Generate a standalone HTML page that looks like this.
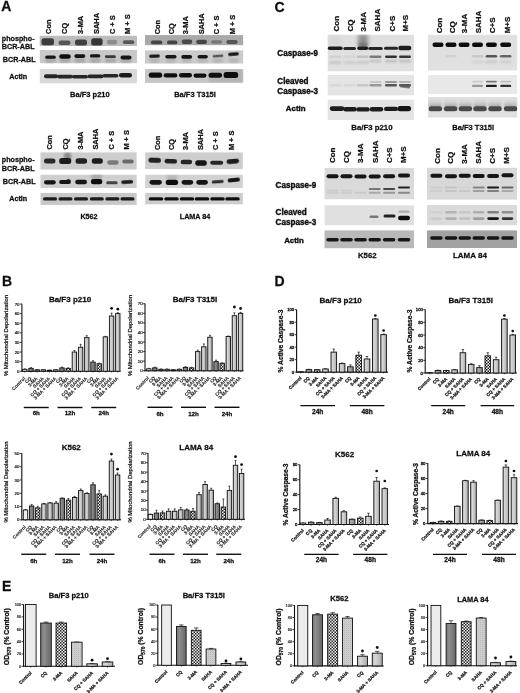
<!DOCTYPE html>
<html><head><meta charset="utf-8"><style>
html,body{margin:0;padding:0;background:#fff;}
svg{display:block;font-family:"Liberation Sans", sans-serif;}
</style></head><body>
<svg width="520" height="693" viewBox="0 0 520 693">
<defs>
<filter id="soft" x="0" y="0" width="100%" height="100%"><feGaussianBlur stdDeviation="0.3"/></filter>
<filter id="b1" x="-50%" y="-100%" width="200%" height="300%"><feGaussianBlur stdDeviation="0.7"/></filter>
<filter id="b2" x="-50%" y="-100%" width="200%" height="300%"><feGaussianBlur stdDeviation="1.1"/></filter>
<filter id="b3" x="-50%" y="-100%" width="200%" height="300%"><feGaussianBlur stdDeviation="2"/></filter>
<linearGradient id="gsmear" x1="0" y1="0" x2="0" y2="1"><stop offset="0" stop-color="#e0e0e0"/><stop offset="0.5" stop-color="#cdcdcd"/><stop offset="1" stop-color="#999"/></linearGradient>
<pattern id="pctrl" width="4" height="4" patternUnits="userSpaceOnUse"><rect width="4" height="4" fill="#ececec"/></pattern>
<linearGradient id="pcq" x1="0" x2="1" y1="0" y2="0"><stop offset="0" stop-color="#747474"/><stop offset="0.3" stop-color="#8e8e8e"/><stop offset="0.65" stop-color="#7a7a7a"/><stop offset="1" stop-color="#666"/></linearGradient>
<linearGradient id="psaha" x1="0" x2="1" y1="0" y2="0"><stop offset="0" stop-color="#bdbdbd"/><stop offset="0.3" stop-color="#d8d8d8"/><stop offset="0.65" stop-color="#c2c2c2"/><stop offset="1" stop-color="#a8a8a8"/></linearGradient>
<pattern id="pstripe" width="2" height="2" patternUnits="userSpaceOnUse"><rect width="2" height="2" fill="#cdcdcd"/><rect width="1" height="1" fill="#bbbbbb"/></pattern>
<pattern id="pchk" width="3" height="3" patternUnits="userSpaceOnUse"><rect width="3" height="3" fill="#f4f4f4"/><rect width="1.5" height="1.5" fill="#222"/><rect x="1.5" y="1.5" width="1.5" height="1.5" fill="#222"/></pattern>
<linearGradient id="pcq2" x1="0" x2="1" y1="0" y2="0"><stop offset="0" stop-color="#909090"/><stop offset="0.3" stop-color="#aaa"/><stop offset="0.65" stop-color="#979797"/><stop offset="1" stop-color="#848484"/></linearGradient>
</defs>
<rect width="520" height="693" fill="#fff"/>
<g filter="url(#soft)">
<text x="1.20" y="11.30" font-size="14" font-weight="bold" text-anchor="start" fill="#111" stroke="#111" stroke-width="0.26">A</text>
<text x="274.50" y="11.70" font-size="14" font-weight="bold" text-anchor="start" fill="#111" stroke="#111" stroke-width="0.26">C</text>
<text x="2.00" y="285.50" font-size="14" font-weight="bold" text-anchor="start" fill="#111" stroke="#111" stroke-width="0.26">B</text>
<text x="274.50" y="286.00" font-size="14" font-weight="bold" text-anchor="start" fill="#111" stroke="#111" stroke-width="0.26">D</text>
<text x="2.00" y="590.50" font-size="14" font-weight="bold" text-anchor="start" fill="#111" stroke="#111" stroke-width="0.26">E</text>
<text x="51.36" y="33.90" font-size="7.4" font-weight="bold" text-anchor="start" fill="#111" transform="rotate(-90 51.36 33.90)" stroke="#111" stroke-width="0.26">Con</text>
<text x="67.46" y="33.90" font-size="7.4" font-weight="bold" text-anchor="start" fill="#111" transform="rotate(-90 67.46 33.90)" stroke="#111" stroke-width="0.26">CQ</text>
<text x="83.06" y="33.90" font-size="7.4" font-weight="bold" text-anchor="start" fill="#111" transform="rotate(-90 83.06 33.90)" stroke="#111" stroke-width="0.26">3-MA</text>
<text x="99.36" y="33.90" font-size="7.4" font-weight="bold" text-anchor="start" fill="#111" transform="rotate(-90 99.36 33.90)" stroke="#111" stroke-width="0.26">SAHA</text>
<text x="115.36" y="33.90" font-size="7.4" font-weight="bold" text-anchor="start" fill="#111" transform="rotate(-90 115.36 33.90)" stroke="#111" stroke-width="0.26">C + S</text>
<text x="130.16" y="33.90" font-size="7.4" font-weight="bold" text-anchor="start" fill="#111" transform="rotate(-90 130.16 33.90)" stroke="#111" stroke-width="0.26">M + S</text>
<clipPath id="c1"><rect x="39.5" y="35.5" width="97.5" height="10.600000000000001"/></clipPath>
<g clip-path="url(#c1)">
<rect x="39.50" y="35.50" width="97.50" height="10.60" fill="#bcbcbc"/>
<rect x="41.45" y="38.30" width="12.50" height="7.00" rx="2.50" fill="#3c3c3c" filter="url(#b1)"/>
<rect x="58.50" y="40.50" width="12.00" height="4.60" rx="2.30" fill="#555" filter="url(#b1)"/>
<rect x="75.00" y="39.50" width="12.00" height="6.00" rx="2.50" fill="#404040" filter="url(#b1)"/>
<rect x="91.20" y="38.25" width="11.40" height="7.30" rx="2.50" fill="#353535" filter="url(#b1)"/>
<rect x="106.80" y="39.85" width="10.40" height="4.70" rx="2.35" fill="#8c8c8c" filter="url(#b1)"/>
<rect x="122.90" y="40.35" width="11.40" height="3.70" rx="1.85" fill="#585858" filter="url(#b1)"/>
</g>
<clipPath id="c2"><rect x="39.5" y="49.9" width="97.5" height="13.5"/></clipPath>
<g clip-path="url(#c2)">
<rect x="39.50" y="49.90" width="97.50" height="13.50" fill="#c9c9c9"/>
<rect x="45.00" y="58.25" width="11.00" height="4.50" rx="2.25" fill="#a8a8a8" filter="url(#b2)"/>
<rect x="59.50" y="58.25" width="11.00" height="4.50" rx="2.25" fill="#a8a8a8" filter="url(#b2)"/>
<rect x="74.30" y="58.25" width="11.00" height="4.50" rx="2.25" fill="#a8a8a8" filter="url(#b2)"/>
<rect x="89.60" y="58.25" width="11.00" height="4.50" rx="2.25" fill="#a8a8a8" filter="url(#b2)"/>
<rect x="104.90" y="58.25" width="11.00" height="4.50" rx="2.25" fill="#a8a8a8" filter="url(#b2)"/>
<rect x="120.50" y="58.25" width="11.00" height="4.50" rx="2.25" fill="#a8a8a8" filter="url(#b2)"/>
<rect x="45.25" y="55.60" width="10.50" height="3.20" rx="1.60" fill="#151515" filter="url(#b1)"/>
<rect x="59.25" y="54.30" width="11.50" height="4.40" rx="2.20" fill="#111" filter="url(#b1)"/>
<rect x="74.30" y="54.30" width="11.00" height="3.60" rx="1.80" fill="#151515" filter="url(#b1)"/>
<rect x="89.85" y="54.30" width="10.50" height="3.20" rx="1.60" fill="#151515" filter="url(#b1)"/>
<rect x="104.90" y="55.30" width="11.00" height="2.80" rx="1.40" fill="#3a3a3a" filter="url(#b1)"/>
<rect x="120.50" y="55.40" width="11.00" height="4.00" rx="2.00" fill="#151515" filter="url(#b1)"/>
</g>
<clipPath id="c3"><rect x="39.5" y="69.0" width="97.5" height="14.599999999999994"/></clipPath>
<g clip-path="url(#c3)">
<rect x="39.50" y="69.00" width="97.50" height="14.60" fill="#d9d9d9"/>
<rect x="44.00" y="74.30" width="14.00" height="4.00" rx="2.00" fill="#262626" filter="url(#b1)"/>
<rect x="57.00" y="74.80" width="16.00" height="3.60" rx="1.80" fill="#262626" filter="url(#b1)"/>
<rect x="72.00" y="75.00" width="16.00" height="3.60" rx="1.80" fill="#262626" filter="url(#b1)"/>
<rect x="87.50" y="74.60" width="16.00" height="3.60" rx="1.80" fill="#262626" filter="url(#b1)"/>
<rect x="102.50" y="74.00" width="16.00" height="3.60" rx="1.80" fill="#262626" filter="url(#b1)"/>
<rect x="119.00" y="72.90" width="13.00" height="4.60" rx="2.30" fill="#1e1e1e" filter="url(#b1)"/>
</g>
<text x="159.86" y="34.30" font-size="7.4" font-weight="bold" text-anchor="start" fill="#111" transform="rotate(-90 159.86 34.30)" stroke="#111" stroke-width="0.26">Con</text>
<text x="173.96" y="34.30" font-size="7.4" font-weight="bold" text-anchor="start" fill="#111" transform="rotate(-90 173.96 34.30)" stroke="#111" stroke-width="0.26">CQ</text>
<text x="188.16" y="34.30" font-size="7.4" font-weight="bold" text-anchor="start" fill="#111" transform="rotate(-90 188.16 34.30)" stroke="#111" stroke-width="0.26">3-MA</text>
<text x="204.26" y="34.30" font-size="7.4" font-weight="bold" text-anchor="start" fill="#111" transform="rotate(-90 204.26 34.30)" stroke="#111" stroke-width="0.26">SAHA</text>
<text x="219.46" y="34.30" font-size="7.4" font-weight="bold" text-anchor="start" fill="#111" transform="rotate(-90 219.46 34.30)" stroke="#111" stroke-width="0.26">C + S</text>
<text x="234.56" y="34.30" font-size="7.4" font-weight="bold" text-anchor="start" fill="#111" transform="rotate(-90 234.56 34.30)" stroke="#111" stroke-width="0.26">M + S</text>
<clipPath id="c4"><rect x="145.0" y="35.1" width="98.4" height="10.299999999999997"/></clipPath>
<g clip-path="url(#c4)">
<rect x="145.00" y="35.10" width="98.40" height="10.30" fill="#a9a9a9"/>
<rect x="150.90" y="40.50" width="11.40" height="3.80" rx="1.90" fill="#444" filter="url(#b1)"/>
<rect x="167.00" y="40.50" width="10.40" height="3.80" rx="1.90" fill="#444" filter="url(#b1)"/>
<rect x="181.75" y="39.50" width="10.50" height="4.40" rx="2.20" fill="#484848" filter="url(#b1)"/>
<rect x="196.20" y="39.80" width="10.80" height="4.20" rx="2.10" fill="#444" filter="url(#b1)"/>
<rect x="211.15" y="40.20" width="10.90" height="3.60" rx="1.80" fill="#777" filter="url(#b1)"/>
<rect x="226.30" y="39.90" width="11.40" height="4.00" rx="2.00" fill="#555" filter="url(#b1)"/>
</g>
<clipPath id="c5"><rect x="145.0" y="50.2" width="98.4" height="13.5"/></clipPath>
<g clip-path="url(#c5)">
<rect x="145.00" y="50.20" width="98.40" height="13.50" fill="#cbcbcb"/>
<rect x="149.50" y="58.50" width="10.00" height="4.00" rx="2.00" fill="#b4b4b4" filter="url(#b2)"/>
<rect x="165.90" y="58.50" width="10.00" height="4.00" rx="2.00" fill="#b4b4b4" filter="url(#b2)"/>
<rect x="181.70" y="58.50" width="10.00" height="4.00" rx="2.00" fill="#b4b4b4" filter="url(#b2)"/>
<rect x="197.70" y="58.50" width="10.00" height="4.00" rx="2.00" fill="#b4b4b4" filter="url(#b2)"/>
<rect x="213.00" y="58.50" width="10.00" height="4.00" rx="2.00" fill="#b4b4b4" filter="url(#b2)"/>
<rect x="228.50" y="58.50" width="10.00" height="4.00" rx="2.00" fill="#b4b4b4" filter="url(#b2)"/>
<rect x="149.10" y="54.55" width="10.80" height="3.10" rx="1.55" fill="#1e1e1e" filter="url(#b1)" transform="rotate(-2 154.50 56.10)"/>
<rect x="165.25" y="55.00" width="11.30" height="3.40" rx="1.70" fill="#151515" filter="url(#b1)"/>
<rect x="181.30" y="55.10" width="10.80" height="3.60" rx="1.80" fill="#151515" filter="url(#b1)"/>
<rect x="197.55" y="54.90" width="10.30" height="3.60" rx="1.80" fill="#151515" filter="url(#b1)"/>
<rect x="212.60" y="54.65" width="10.80" height="2.50" rx="1.25" fill="#555" filter="url(#b1)" transform="rotate(-4 218.00 55.90)"/>
<rect x="228.10" y="52.45" width="10.80" height="3.30" rx="1.65" fill="#151515" filter="url(#b1)" transform="rotate(-5 233.50 54.10)"/>
</g>
<clipPath id="c6"><rect x="145.0" y="68.9" width="98.4" height="14.0"/></clipPath>
<g clip-path="url(#c6)">
<rect x="145.00" y="68.90" width="98.40" height="14.00" fill="#c6c6c6"/>
<rect x="208.35" y="69.30" width="34.50" height="13.00" rx="2.50" fill="#b4b4b4" filter="url(#b2)"/>
<rect x="148.75" y="72.50" width="13.50" height="5.20" rx="2.50" fill="#111" filter="url(#b1)"/>
<rect x="163.65" y="73.30" width="13.70" height="4.20" rx="2.10" fill="#111" filter="url(#b1)"/>
<rect x="179.00" y="72.90" width="13.00" height="4.60" rx="2.30" fill="#111" filter="url(#b1)"/>
<rect x="193.55" y="73.50" width="12.90" height="4.20" rx="2.10" fill="#111" filter="url(#b1)"/>
<rect x="208.55" y="72.80" width="13.50" height="5.00" rx="2.50" fill="#111" filter="url(#b1)"/>
<rect x="223.65" y="72.00" width="14.50" height="6.00" rx="2.50" fill="#0a0a0a" filter="url(#b1)"/>
</g>
<text x="89.90" y="97.48" font-size="7.5" font-weight="bold" text-anchor="middle" fill="#111" stroke="#111" stroke-width="0.26">Ba/F3 p210</text>
<text x="195.00" y="97.48" font-size="7.5" font-weight="bold" text-anchor="middle" fill="#111" stroke="#111" stroke-width="0.26">Ba/F3 T315I</text>
<text x="1.80" y="40.78" font-size="7.2" font-weight="bold" text-anchor="start" fill="#111" stroke="#111" stroke-width="0.26">phospho-</text>
<text x="1.80" y="49.48" font-size="7.2" font-weight="bold" text-anchor="start" fill="#111" stroke="#111" stroke-width="0.26">BCR-ABL</text>
<text x="19.20" y="61.78" font-size="7.2" font-weight="bold" text-anchor="middle" fill="#111" stroke="#111" stroke-width="0.26">BCR-ABL</text>
<text x="18.20" y="79.08" font-size="7.2" font-weight="bold" text-anchor="middle" fill="#111" stroke="#111" stroke-width="0.26">Actin</text>
<text x="1.80" y="162.18" font-size="7.2" font-weight="bold" text-anchor="start" fill="#111" stroke="#111" stroke-width="0.26">phospho-</text>
<text x="1.80" y="170.98" font-size="7.2" font-weight="bold" text-anchor="start" fill="#111" stroke="#111" stroke-width="0.26">BCR-ABL</text>
<text x="19.20" y="184.08" font-size="7.2" font-weight="bold" text-anchor="middle" fill="#111" stroke="#111" stroke-width="0.26">BCR-ABL</text>
<text x="18.20" y="201.08" font-size="7.2" font-weight="bold" text-anchor="middle" fill="#111" stroke="#111" stroke-width="0.26">Actin</text>
<text x="52.26" y="149.60" font-size="7.4" font-weight="bold" text-anchor="start" fill="#111" transform="rotate(-90 52.26 149.60)" stroke="#111" stroke-width="0.26">Con</text>
<text x="67.66" y="149.60" font-size="7.4" font-weight="bold" text-anchor="start" fill="#111" transform="rotate(-90 67.66 149.60)" stroke="#111" stroke-width="0.26">CQ</text>
<text x="83.06" y="149.60" font-size="7.4" font-weight="bold" text-anchor="start" fill="#111" transform="rotate(-90 83.06 149.60)" stroke="#111" stroke-width="0.26">3-MA</text>
<text x="98.46" y="149.60" font-size="7.4" font-weight="bold" text-anchor="start" fill="#111" transform="rotate(-90 98.46 149.60)" stroke="#111" stroke-width="0.26">SAHA</text>
<text x="113.86" y="149.60" font-size="7.4" font-weight="bold" text-anchor="start" fill="#111" transform="rotate(-90 113.86 149.60)" stroke="#111" stroke-width="0.26">C + S</text>
<text x="129.16" y="149.60" font-size="7.4" font-weight="bold" text-anchor="start" fill="#111" transform="rotate(-90 129.16 149.60)" stroke="#111" stroke-width="0.26">M + S</text>
<clipPath id="c7"><rect x="40.3" y="152.2" width="96.50000000000001" height="17.600000000000023"/></clipPath>
<g clip-path="url(#c7)">
<rect x="40.30" y="152.20" width="96.50" height="17.60" fill="#cdcdcd"/>
<rect x="64.00" y="152.50" width="7.00" height="9.00" rx="2.50" fill="#8a8a8a" filter="url(#b2)"/>
<rect x="43.95" y="158.50" width="11.50" height="5.00" rx="2.50" fill="#2a2a2a" filter="url(#b1)"/>
<rect x="59.20" y="158.00" width="12.00" height="6.00" rx="2.50" fill="#1e1e1e" filter="url(#b1)"/>
<rect x="75.55" y="158.25" width="11.50" height="5.50" rx="2.50" fill="#222" filter="url(#b1)"/>
<rect x="91.80" y="158.25" width="11.00" height="5.50" rx="2.50" fill="#1a1a1a" filter="url(#b1)"/>
<rect x="107.20" y="160.25" width="11.40" height="4.50" rx="2.25" fill="#7a7a7a" filter="url(#b1)"/>
<rect x="122.30" y="159.50" width="11.40" height="4.00" rx="2.00" fill="#6a6a6a" filter="url(#b1)"/>
</g>
<clipPath id="c8"><rect x="40.3" y="174.5" width="96.50000000000001" height="13.5"/></clipPath>
<g clip-path="url(#c8)">
<rect x="40.30" y="174.50" width="96.50" height="13.50" fill="#cfcfcf"/>
<rect x="91.15" y="174.00" width="10.90" height="6.00" rx="2.50" fill="#aaa" filter="url(#b2)"/>
<rect x="66.50" y="179.00" width="4.00" height="3.00" rx="1.50" fill="#333" filter="url(#b1)"/>
<rect x="44.00" y="180.20" width="11.80" height="4.20" rx="2.10" fill="#151515" filter="url(#b1)"/>
<rect x="59.10" y="179.90" width="11.80" height="4.20" rx="2.10" fill="#151515" filter="url(#b1)"/>
<rect x="75.20" y="179.70" width="11.80" height="4.60" rx="2.30" fill="#151515" filter="url(#b1)"/>
<rect x="90.90" y="179.10" width="11.40" height="5.20" rx="2.50" fill="#111" filter="url(#b1)"/>
<rect x="106.20" y="181.30" width="11.40" height="3.00" rx="1.50" fill="#444" filter="url(#b1)"/>
<rect x="121.20" y="180.30" width="12.00" height="3.40" rx="1.70" fill="#1e1e1e" filter="url(#b1)" transform="rotate(-3 127.20 182.00)"/>
</g>
<clipPath id="c9"><rect x="40.3" y="192.7" width="96.50000000000001" height="12.200000000000017"/></clipPath>
<g clip-path="url(#c9)">
<rect x="40.30" y="192.70" width="96.50" height="12.20" fill="#c8c8c8"/>
<rect x="43.00" y="197.30" width="14.00" height="3.20" rx="1.60" fill="#1a1a1a" filter="url(#b1)"/>
<rect x="58.50" y="197.30" width="14.00" height="3.20" rx="1.60" fill="#1a1a1a" filter="url(#b1)"/>
<rect x="74.00" y="197.30" width="14.00" height="3.20" rx="1.60" fill="#1a1a1a" filter="url(#b1)"/>
<rect x="89.80" y="197.30" width="14.00" height="3.20" rx="1.60" fill="#1a1a1a" filter="url(#b1)"/>
<rect x="105.40" y="197.30" width="14.00" height="3.20" rx="1.60" fill="#1a1a1a" filter="url(#b1)"/>
<rect x="120.50" y="197.30" width="14.00" height="3.20" rx="1.60" fill="#1a1a1a" filter="url(#b1)"/>
</g>
<text x="159.56" y="150.10" font-size="7.4" font-weight="bold" text-anchor="start" fill="#111" transform="rotate(-90 159.56 150.10)" stroke="#111" stroke-width="0.26">Con</text>
<text x="173.66" y="150.10" font-size="7.4" font-weight="bold" text-anchor="start" fill="#111" transform="rotate(-90 173.66 150.10)" stroke="#111" stroke-width="0.26">CQ</text>
<text x="188.46" y="150.10" font-size="7.4" font-weight="bold" text-anchor="start" fill="#111" transform="rotate(-90 188.46 150.10)" stroke="#111" stroke-width="0.26">3-MA</text>
<text x="203.46" y="150.10" font-size="7.4" font-weight="bold" text-anchor="start" fill="#111" transform="rotate(-90 203.46 150.10)" stroke="#111" stroke-width="0.26">SAHA</text>
<text x="218.46" y="150.10" font-size="7.4" font-weight="bold" text-anchor="start" fill="#111" transform="rotate(-90 218.46 150.10)" stroke="#111" stroke-width="0.26">C + S</text>
<text x="233.86" y="150.10" font-size="7.4" font-weight="bold" text-anchor="start" fill="#111" transform="rotate(-90 233.86 150.10)" stroke="#111" stroke-width="0.26">M + S</text>
<clipPath id="c10"><rect x="145.1" y="152.2" width="97.80000000000001" height="17.100000000000023"/></clipPath>
<g clip-path="url(#c10)">
<rect x="145.10" y="152.20" width="97.80" height="17.10" fill="#cdcdcd"/>
<rect x="148.45" y="157.80" width="12.50" height="5.00" rx="2.50" fill="#222" filter="url(#b1)" transform="rotate(2 154.70 160.30)"/>
<rect x="164.55" y="159.00" width="12.50" height="4.60" rx="2.30" fill="#222" filter="url(#b1)" transform="rotate(2 170.80 161.30)"/>
<rect x="180.65" y="159.80" width="11.50" height="4.40" rx="2.20" fill="#282828" filter="url(#b1)"/>
<rect x="195.25" y="160.30" width="11.50" height="5.40" rx="2.50" fill="#151515" filter="url(#b1)"/>
<rect x="210.20" y="160.80" width="13.00" height="4.00" rx="2.00" fill="#282828" filter="url(#b1)"/>
<rect x="226.55" y="158.90" width="12.50" height="4.80" rx="2.40" fill="#1e1e1e" filter="url(#b1)" transform="rotate(-5 232.80 161.30)"/>
</g>
<clipPath id="c11"><rect x="145.1" y="174.5" width="97.80000000000001" height="13.5"/></clipPath>
<g clip-path="url(#c11)">
<rect x="145.10" y="174.50" width="97.80" height="13.50" fill="#d2d2d2"/>
<rect x="166.40" y="175.00" width="11.00" height="5.00" rx="2.50" fill="#b8b8b8" filter="url(#b2)"/>
<rect x="149.50" y="179.90" width="12.40" height="4.80" rx="2.40" fill="#151515" filter="url(#b1)"/>
<rect x="165.70" y="179.65" width="12.40" height="5.30" rx="2.50" fill="#111" filter="url(#b1)"/>
<rect x="181.60" y="179.90" width="11.60" height="4.80" rx="2.40" fill="#151515" filter="url(#b1)"/>
<rect x="196.30" y="179.90" width="11.60" height="4.80" rx="2.40" fill="#151515" filter="url(#b1)"/>
<rect x="211.70" y="180.20" width="12.00" height="3.00" rx="1.50" fill="#2a2a2a" filter="url(#b1)" transform="rotate(-4 217.70 181.70)"/>
<rect x="227.60" y="177.90" width="12.40" height="4.20" rx="2.10" fill="#151515" filter="url(#b1)" transform="rotate(-6 233.80 180.00)"/>
</g>
<clipPath id="c12"><rect x="145.1" y="192.7" width="97.80000000000001" height="11.900000000000006"/></clipPath>
<g clip-path="url(#c12)">
<rect x="145.10" y="192.70" width="97.80" height="11.90" fill="#cdcdcd"/>
<rect x="148.75" y="197.30" width="14.50" height="3.20" rx="1.60" fill="#111" filter="url(#b1)"/>
<rect x="164.25" y="197.30" width="14.50" height="3.20" rx="1.60" fill="#111" filter="url(#b1)"/>
<rect x="179.75" y="197.30" width="14.50" height="3.20" rx="1.60" fill="#111" filter="url(#b1)"/>
<rect x="194.75" y="197.30" width="14.50" height="3.20" rx="1.60" fill="#111" filter="url(#b1)"/>
<rect x="210.25" y="197.30" width="14.50" height="3.20" rx="1.60" fill="#111" filter="url(#b1)"/>
<rect x="225.25" y="197.30" width="14.50" height="3.20" rx="1.60" fill="#111" filter="url(#b1)"/>
</g>
<text x="89.00" y="218.58" font-size="7.2" font-weight="bold" text-anchor="middle" fill="#111" stroke="#111" stroke-width="0.26">K562</text>
<text x="195.00" y="218.58" font-size="7.2" font-weight="bold" text-anchor="middle" fill="#111" stroke="#111" stroke-width="0.26">LAMA 84</text>
<text x="339.18" y="31.50" font-size="8" font-weight="bold" text-anchor="start" fill="#111" transform="rotate(-90 339.18 31.50)" stroke="#111" stroke-width="0.26">Con</text>
<text x="352.58" y="31.50" font-size="8" font-weight="bold" text-anchor="start" fill="#111" transform="rotate(-90 352.58 31.50)" stroke="#111" stroke-width="0.26">CQ</text>
<text x="366.28" y="31.50" font-size="8" font-weight="bold" text-anchor="start" fill="#111" transform="rotate(-90 366.28 31.50)" stroke="#111" stroke-width="0.26">3-MA</text>
<text x="379.98" y="31.50" font-size="8" font-weight="bold" text-anchor="start" fill="#111" transform="rotate(-90 379.98 31.50)" stroke="#111" stroke-width="0.26">SAHA</text>
<text x="394.58" y="31.50" font-size="8" font-weight="bold" text-anchor="start" fill="#111" transform="rotate(-90 394.58 31.50)" stroke="#111" stroke-width="0.26">C+S</text>
<text x="408.28" y="31.50" font-size="8" font-weight="bold" text-anchor="start" fill="#111" transform="rotate(-90 408.28 31.50)" stroke="#111" stroke-width="0.26">M+S</text>
<clipPath id="c13"><rect x="327.5" y="34.6" width="86.5" height="36.99999999999999"/></clipPath>
<g clip-path="url(#c13)">
<rect x="327.50" y="34.60" width="86.50" height="37.00" fill="#e0e0e0"/>
<rect x="328.70" y="35.00" width="13.00" height="12.00" rx="2.50" fill="#d8d8d8" filter="url(#b3)"/>
<rect x="358.00" y="34.00" width="10.00" height="13.00" rx="2.50" fill="#8e8e8e" filter="url(#b3)"/>
<rect x="358.50" y="42.50" width="9.00" height="5.00" rx="2.50" fill="#777" filter="url(#b2)"/>
<rect x="327.70" y="46.60" width="15.00" height="3.40" rx="1.70" fill="#1e1e1e" filter="url(#b1)"/>
<rect x="343.35" y="47.00" width="12.50" height="3.00" rx="1.50" fill="#252525" filter="url(#b1)"/>
<rect x="357.20" y="46.40" width="11.00" height="3.60" rx="1.80" fill="#1e1e1e" filter="url(#b1)"/>
<rect x="368.25" y="46.90" width="14.50" height="3.00" rx="1.50" fill="#252525" filter="url(#b1)"/>
<rect x="384.00" y="46.80" width="14.00" height="3.00" rx="1.50" fill="#252525" filter="url(#b1)"/>
<rect x="398.30" y="45.80" width="13.00" height="4.40" rx="2.20" fill="#1a1a1a" filter="url(#b1)"/>
<rect x="329.20" y="55.60" width="12.00" height="2.40" rx="1.20" fill="#d0d0d0" filter="url(#b1)"/>
<rect x="343.60" y="55.60" width="12.00" height="2.40" rx="1.20" fill="#d4d4d4" filter="url(#b1)"/>
<rect x="356.70" y="55.60" width="12.00" height="2.40" rx="1.20" fill="#c2c2c2" filter="url(#b1)"/>
<rect x="369.50" y="55.60" width="12.00" height="2.40" rx="1.20" fill="#7a7a7a" filter="url(#b1)"/>
<rect x="385.00" y="55.60" width="12.00" height="2.40" rx="1.20" fill="#333" filter="url(#b1)"/>
<rect x="399.00" y="55.60" width="12.00" height="2.40" rx="1.20" fill="#383838" filter="url(#b1)"/>
<rect x="369.50" y="60.10" width="12.00" height="2.20" rx="1.10" fill="#bdbdbd" filter="url(#b2)"/>
<rect x="385.00" y="60.10" width="12.00" height="2.20" rx="1.10" fill="#b8b8b8" filter="url(#b2)"/>
<rect x="399.00" y="60.10" width="12.00" height="2.20" rx="1.10" fill="#b8b8b8" filter="url(#b2)"/>
<rect x="329.20" y="61.00" width="12.00" height="3.00" rx="1.50" fill="#c8c8c8" filter="url(#b2)"/>
<rect x="343.60" y="61.00" width="12.00" height="3.00" rx="1.50" fill="#cccccc" filter="url(#b2)"/>
<rect x="356.70" y="61.00" width="12.00" height="3.00" rx="1.50" fill="#c8c8c8" filter="url(#b2)"/>
</g>
<clipPath id="c14"><rect x="327.5" y="74.9" width="86.5" height="20.69999999999999"/></clipPath>
<g clip-path="url(#c14)">
<rect x="327.50" y="74.90" width="86.50" height="20.70" fill="#e4e4e4"/>
<rect x="369.50" y="81.00" width="12.00" height="2.00" rx="1.00" fill="#c8c8c8" filter="url(#b1)"/>
<rect x="385.00" y="81.00" width="12.00" height="2.00" rx="1.00" fill="#999" filter="url(#b1)"/>
<rect x="399.00" y="81.00" width="12.00" height="2.00" rx="1.00" fill="#b4b4b4" filter="url(#b1)"/>
<rect x="329.20" y="83.90" width="12.00" height="2.60" rx="1.30" fill="#d8d8d8" filter="url(#b1)"/>
<rect x="343.60" y="83.90" width="12.00" height="2.60" rx="1.30" fill="#d8d8d8" filter="url(#b1)"/>
<rect x="356.70" y="83.90" width="12.00" height="2.60" rx="1.30" fill="#c8c8c8" filter="url(#b1)"/>
<rect x="369.50" y="83.90" width="12.00" height="2.60" rx="1.30" fill="#999" filter="url(#b1)"/>
<rect x="385.00" y="83.90" width="12.00" height="2.60" rx="1.30" fill="#555" filter="url(#b1)"/>
<rect x="399.00" y="83.90" width="12.00" height="2.60" rx="1.30" fill="#555" filter="url(#b1)"/>
<rect x="400.00" y="85.30" width="10.00" height="2.40" rx="1.20" fill="#5a5a5a" filter="url(#b1)" transform="rotate(8 405.00 86.50)"/>
</g>
<clipPath id="c15"><rect x="327.5" y="99.5" width="86.5" height="20.5"/></clipPath>
<g clip-path="url(#c15)">
<rect x="327.50" y="99.50" width="86.50" height="20.50" fill="#e4e4e4"/>
<rect x="329.75" y="106.20" width="14.50" height="4.80" rx="2.40" fill="#1a1a1a" filter="url(#b1)"/>
<rect x="343.25" y="107.00" width="13.50" height="4.40" rx="2.20" fill="#1e1e1e" filter="url(#b1)"/>
<rect x="356.25" y="107.20" width="13.50" height="4.40" rx="2.20" fill="#1e1e1e" filter="url(#b1)"/>
<rect x="369.75" y="107.00" width="13.50" height="4.40" rx="2.20" fill="#1e1e1e" filter="url(#b1)"/>
<rect x="384.00" y="106.70" width="14.00" height="4.40" rx="2.20" fill="#1e1e1e" filter="url(#b1)"/>
<rect x="397.55" y="106.00" width="13.50" height="5.20" rx="2.50" fill="#141414" filter="url(#b1)"/>
</g>
<text x="441.58" y="33.30" font-size="8" font-weight="bold" text-anchor="start" fill="#111" transform="rotate(-90 441.58 33.30)" stroke="#111" stroke-width="0.26">Con</text>
<text x="454.88" y="33.30" font-size="8" font-weight="bold" text-anchor="start" fill="#111" transform="rotate(-90 454.88 33.30)" stroke="#111" stroke-width="0.26">CQ</text>
<text x="467.18" y="33.30" font-size="8" font-weight="bold" text-anchor="start" fill="#111" transform="rotate(-90 467.18 33.30)" stroke="#111" stroke-width="0.26">3-MA</text>
<text x="481.48" y="33.30" font-size="8" font-weight="bold" text-anchor="start" fill="#111" transform="rotate(-90 481.48 33.30)" stroke="#111" stroke-width="0.26">SAHA</text>
<text x="495.48" y="33.30" font-size="8" font-weight="bold" text-anchor="start" fill="#111" transform="rotate(-90 495.48 33.30)" stroke="#111" stroke-width="0.26">C+S</text>
<text x="509.78" y="33.30" font-size="8" font-weight="bold" text-anchor="start" fill="#111" transform="rotate(-90 509.78 33.30)" stroke="#111" stroke-width="0.26">M+S</text>
<clipPath id="c16"><rect x="427.9" y="34.6" width="89.5" height="36.1"/></clipPath>
<g clip-path="url(#c16)">
<rect x="427.90" y="34.60" width="89.50" height="36.10" fill="#e0e0e0"/>
<rect x="432.50" y="42.50" width="11.00" height="4.40" rx="2.20" fill="#0e0e0e" filter="url(#b1)"/>
<rect x="445.50" y="42.50" width="11.00" height="4.40" rx="2.20" fill="#0e0e0e" filter="url(#b1)"/>
<rect x="458.60" y="42.50" width="11.00" height="4.40" rx="2.20" fill="#0e0e0e" filter="url(#b1)"/>
<rect x="472.00" y="42.50" width="11.00" height="4.40" rx="2.20" fill="#0e0e0e" filter="url(#b1)"/>
<rect x="485.90" y="42.50" width="11.00" height="4.40" rx="2.20" fill="#0e0e0e" filter="url(#b1)"/>
<rect x="500.20" y="42.50" width="11.00" height="4.40" rx="2.20" fill="#0e0e0e" filter="url(#b1)"/>
<rect x="445.25" y="55.00" width="11.50" height="2.60" rx="1.30" fill="#d2d2d2" filter="url(#b1)"/>
<rect x="471.75" y="55.00" width="11.50" height="2.60" rx="1.30" fill="#c8c8c8" filter="url(#b1)"/>
<rect x="485.65" y="55.00" width="11.50" height="2.60" rx="1.30" fill="#555" filter="url(#b1)"/>
<rect x="499.95" y="55.00" width="11.50" height="2.60" rx="1.30" fill="#666" filter="url(#b1)"/>
<rect x="471.75" y="60.60" width="11.50" height="2.60" rx="1.30" fill="#d2d2d2" filter="url(#b2)"/>
<rect x="485.65" y="60.60" width="11.50" height="2.60" rx="1.30" fill="#c8c8c8" filter="url(#b2)"/>
<rect x="499.95" y="60.60" width="11.50" height="2.60" rx="1.30" fill="#cccccc" filter="url(#b2)"/>
</g>
<clipPath id="c17"><rect x="427.9" y="74.9" width="89.5" height="19.39999999999999"/></clipPath>
<g clip-path="url(#c17)">
<rect x="427.90" y="74.90" width="89.50" height="19.40" fill="#e8e8e8"/>
<rect x="472.00" y="80.70" width="11.00" height="1.80" rx="0.90" fill="#cacaca" filter="url(#b1)"/>
<rect x="485.90" y="80.70" width="11.00" height="1.80" rx="0.90" fill="#777" filter="url(#b1)"/>
<rect x="500.20" y="80.70" width="11.00" height="1.80" rx="0.90" fill="#bbb" filter="url(#b1)"/>
<rect x="472.00" y="84.70" width="11.00" height="2.40" rx="1.20" fill="#999" filter="url(#b1)"/>
<rect x="485.90" y="84.70" width="11.00" height="2.40" rx="1.20" fill="#1a1a1a" filter="url(#b1)"/>
<rect x="500.20" y="84.70" width="11.00" height="2.40" rx="1.20" fill="#333" filter="url(#b1)"/>
</g>
<clipPath id="c18"><rect x="427.9" y="97.0" width="89.5" height="20.700000000000003"/></clipPath>
<g clip-path="url(#c18)">
<rect x="427.90" y="97.00" width="89.50" height="20.70" fill="#e0e0e0"/>
<rect x="428.90" y="98.70" width="13.00" height="9.00" rx="2.50" fill="url(#gsmear)" filter="url(#b2)"/>
<rect x="444.10" y="98.70" width="13.00" height="9.00" rx="2.50" fill="url(#gsmear)" filter="url(#b2)"/>
<rect x="458.90" y="98.70" width="13.00" height="9.00" rx="2.50" fill="url(#gsmear)" filter="url(#b2)"/>
<rect x="473.50" y="98.70" width="13.00" height="9.00" rx="2.50" fill="url(#gsmear)" filter="url(#b2)"/>
<rect x="488.50" y="98.70" width="13.00" height="9.00" rx="2.50" fill="url(#gsmear)" filter="url(#b2)"/>
<rect x="504.10" y="98.70" width="13.00" height="9.00" rx="2.50" fill="url(#gsmear)" filter="url(#b2)"/>
<rect x="428.65" y="106.30" width="13.50" height="5.00" rx="2.50" fill="#4a4a4a" filter="url(#b1)"/>
<rect x="443.85" y="106.30" width="13.50" height="5.00" rx="2.50" fill="#4a4a4a" filter="url(#b1)"/>
<rect x="458.65" y="106.30" width="13.50" height="5.00" rx="2.50" fill="#4a4a4a" filter="url(#b1)"/>
<rect x="473.25" y="106.30" width="13.50" height="5.00" rx="2.50" fill="#4a4a4a" filter="url(#b1)"/>
<rect x="488.25" y="106.30" width="13.50" height="5.00" rx="2.50" fill="#4a4a4a" filter="url(#b1)"/>
<rect x="503.85" y="106.30" width="13.50" height="5.00" rx="2.50" fill="#4a4a4a" filter="url(#b1)"/>
</g>
<text x="371.90" y="130.09" font-size="7.8" font-weight="bold" text-anchor="middle" fill="#111" stroke="#111" stroke-width="0.26">Ba/F3 p210</text>
<text x="473.20" y="129.98" font-size="7.5" font-weight="bold" text-anchor="middle" fill="#111" stroke="#111" stroke-width="0.26">Ba/F3 T315I</text>
<text x="334.78" y="163.10" font-size="8" font-weight="bold" text-anchor="start" fill="#111" transform="rotate(-90 334.78 163.10)" stroke="#111" stroke-width="0.26">Con</text>
<text x="348.88" y="163.10" font-size="8" font-weight="bold" text-anchor="start" fill="#111" transform="rotate(-90 348.88 163.10)" stroke="#111" stroke-width="0.26">CQ</text>
<text x="363.28" y="163.10" font-size="8" font-weight="bold" text-anchor="start" fill="#111" transform="rotate(-90 363.28 163.10)" stroke="#111" stroke-width="0.26">3-MA</text>
<text x="377.68" y="163.10" font-size="8" font-weight="bold" text-anchor="start" fill="#111" transform="rotate(-90 377.68 163.10)" stroke="#111" stroke-width="0.26">SAHA</text>
<text x="391.68" y="163.10" font-size="8" font-weight="bold" text-anchor="start" fill="#111" transform="rotate(-90 391.68 163.10)" stroke="#111" stroke-width="0.26">C+S</text>
<text x="405.58" y="163.10" font-size="8" font-weight="bold" text-anchor="start" fill="#111" transform="rotate(-90 405.58 163.10)" stroke="#111" stroke-width="0.26">M+S</text>
<clipPath id="c19"><rect x="324.3" y="167.8" width="89.69999999999999" height="31.69999999999999"/></clipPath>
<g clip-path="url(#c19)">
<rect x="324.30" y="167.80" width="89.70" height="31.70" fill="#dadada"/>
<rect x="326.50" y="174.30" width="12.00" height="4.00" rx="2.00" fill="#151515" filter="url(#b1)"/>
<rect x="340.50" y="174.30" width="12.00" height="4.00" rx="2.00" fill="#151515" filter="url(#b1)"/>
<rect x="354.50" y="174.60" width="12.00" height="4.00" rx="2.00" fill="#151515" filter="url(#b1)"/>
<rect x="368.70" y="174.60" width="12.00" height="4.00" rx="2.00" fill="#151515" filter="url(#b1)"/>
<rect x="383.10" y="174.30" width="12.00" height="4.00" rx="2.00" fill="#151515" filter="url(#b1)"/>
<rect x="398.00" y="173.50" width="12.00" height="4.00" rx="2.00" fill="#151515" filter="url(#b1)"/>
<rect x="326.50" y="189.40" width="12.00" height="2.20" rx="1.10" fill="#cccccc" filter="url(#b1)"/>
<rect x="340.50" y="189.40" width="12.00" height="2.20" rx="1.10" fill="#cfcfcf" filter="url(#b1)"/>
<rect x="368.70" y="187.90" width="12.00" height="2.20" rx="1.10" fill="#777" filter="url(#b1)"/>
<rect x="383.10" y="187.90" width="12.00" height="2.20" rx="1.10" fill="#444" filter="url(#b1)"/>
<rect x="398.00" y="186.40" width="12.00" height="2.20" rx="1.10" fill="#222" filter="url(#b1)"/>
<rect x="326.50" y="191.80" width="12.00" height="2.00" rx="1.00" fill="#cccccc" filter="url(#b1)"/>
<rect x="340.50" y="191.80" width="12.00" height="2.00" rx="1.00" fill="#cccccc" filter="url(#b1)"/>
<rect x="354.50" y="191.80" width="12.00" height="2.00" rx="1.00" fill="#c8c8c8" filter="url(#b1)"/>
<rect x="368.70" y="191.80" width="12.00" height="2.00" rx="1.00" fill="#aaa" filter="url(#b1)"/>
<rect x="383.10" y="191.80" width="12.00" height="2.00" rx="1.00" fill="#999" filter="url(#b1)"/>
<rect x="398.00" y="191.80" width="12.00" height="2.00" rx="1.00" fill="#888" filter="url(#b1)"/>
</g>
<clipPath id="c20"><rect x="324.3" y="205.2" width="89.69999999999999" height="20.30000000000001"/></clipPath>
<g clip-path="url(#c20)">
<rect x="324.30" y="205.20" width="89.70" height="20.30" fill="#e0e0e0"/>
<rect x="398.50" y="210.40" width="11.00" height="2.40" rx="1.20" fill="#aaa" filter="url(#b1)"/>
<rect x="369.50" y="215.45" width="9.00" height="2.50" rx="1.25" fill="#777" filter="url(#b1)"/>
<rect x="383.50" y="214.50" width="12.00" height="3.00" rx="1.50" fill="#222" filter="url(#b1)"/>
<rect x="398.00" y="215.65" width="12.00" height="4.50" rx="2.25" fill="#111" filter="url(#b1)"/>
</g>
<clipPath id="c21"><rect x="324.3" y="230.2" width="89.69999999999999" height="18.200000000000017"/></clipPath>
<g clip-path="url(#c21)">
<rect x="324.30" y="230.20" width="89.70" height="18.20" fill="#b9b9b9"/>
<rect x="326.25" y="238.00" width="12.50" height="3.60" rx="1.80" fill="#151515" filter="url(#b1)"/>
<rect x="340.25" y="238.00" width="12.50" height="3.60" rx="1.80" fill="#151515" filter="url(#b1)"/>
<rect x="354.25" y="238.00" width="12.50" height="3.60" rx="1.80" fill="#151515" filter="url(#b1)"/>
<rect x="368.45" y="238.00" width="12.50" height="3.60" rx="1.80" fill="#151515" filter="url(#b1)"/>
<rect x="382.85" y="238.00" width="12.50" height="3.60" rx="1.80" fill="#151515" filter="url(#b1)"/>
<rect x="397.75" y="238.00" width="12.50" height="3.60" rx="1.80" fill="#151515" filter="url(#b1)"/>
</g>
<text x="439.78" y="163.70" font-size="8" font-weight="bold" text-anchor="start" fill="#111" transform="rotate(-90 439.78 163.70)" stroke="#111" stroke-width="0.26">Con</text>
<text x="453.48" y="163.70" font-size="8" font-weight="bold" text-anchor="start" fill="#111" transform="rotate(-90 453.48 163.70)" stroke="#111" stroke-width="0.26">CQ</text>
<text x="466.68" y="163.70" font-size="8" font-weight="bold" text-anchor="start" fill="#111" transform="rotate(-90 466.68 163.70)" stroke="#111" stroke-width="0.26">3-MA</text>
<text x="480.88" y="163.70" font-size="8" font-weight="bold" text-anchor="start" fill="#111" transform="rotate(-90 480.88 163.70)" stroke="#111" stroke-width="0.26">SAHA</text>
<text x="494.58" y="163.70" font-size="8" font-weight="bold" text-anchor="start" fill="#111" transform="rotate(-90 494.58 163.70)" stroke="#111" stroke-width="0.26">C+S</text>
<text x="509.28" y="163.70" font-size="8" font-weight="bold" text-anchor="start" fill="#111" transform="rotate(-90 509.28 163.70)" stroke="#111" stroke-width="0.26">M+S</text>
<clipPath id="c22"><rect x="426.9" y="167.6" width="90.10000000000002" height="32.20000000000002"/></clipPath>
<g clip-path="url(#c22)">
<rect x="426.90" y="167.60" width="90.10" height="32.20" fill="#d8d8d8"/>
<rect x="430.40" y="173.70" width="12.00" height="4.00" rx="2.00" fill="#151515" filter="url(#b1)"/>
<rect x="445.00" y="174.20" width="12.00" height="4.00" rx="2.00" fill="#151515" filter="url(#b1)"/>
<rect x="458.70" y="173.70" width="12.00" height="4.00" rx="2.00" fill="#151515" filter="url(#b1)"/>
<rect x="472.70" y="174.00" width="12.00" height="4.00" rx="2.00" fill="#151515" filter="url(#b1)"/>
<rect x="487.10" y="174.00" width="12.00" height="4.00" rx="2.00" fill="#151515" filter="url(#b1)"/>
<rect x="501.50" y="173.20" width="12.00" height="4.00" rx="2.00" fill="#151515" filter="url(#b1)"/>
<rect x="430.40" y="186.40" width="12.00" height="2.20" rx="1.10" fill="#cccccc" filter="url(#b1)"/>
<rect x="445.00" y="186.40" width="12.00" height="2.20" rx="1.10" fill="#c4c4c4" filter="url(#b1)"/>
<rect x="458.70" y="186.40" width="12.00" height="2.20" rx="1.10" fill="#d2d2d2" filter="url(#b1)"/>
<rect x="472.70" y="186.40" width="12.00" height="2.20" rx="1.10" fill="#888" filter="url(#b1)"/>
<rect x="487.10" y="186.40" width="12.00" height="2.20" rx="1.10" fill="#1a1a1a" filter="url(#b1)"/>
<rect x="501.50" y="186.40" width="12.00" height="2.20" rx="1.10" fill="#666" filter="url(#b1)"/>
<rect x="430.40" y="189.90" width="12.00" height="2.00" rx="1.00" fill="#cccccc" filter="url(#b1)"/>
<rect x="445.00" y="189.90" width="12.00" height="2.00" rx="1.00" fill="#c4c4c4" filter="url(#b1)"/>
<rect x="458.70" y="189.90" width="12.00" height="2.00" rx="1.00" fill="#c8c8c8" filter="url(#b1)"/>
<rect x="472.70" y="189.90" width="12.00" height="2.00" rx="1.00" fill="#a0a0a0" filter="url(#b1)"/>
<rect x="487.10" y="189.90" width="12.00" height="2.00" rx="1.00" fill="#808080" filter="url(#b1)"/>
<rect x="501.50" y="189.90" width="12.00" height="2.00" rx="1.00" fill="#aaa" filter="url(#b1)"/>
</g>
<clipPath id="c23"><rect x="426.9" y="204.9" width="90.10000000000002" height="20.599999999999994"/></clipPath>
<g clip-path="url(#c23)">
<rect x="426.90" y="204.90" width="90.10" height="20.60" fill="#dadada"/>
<rect x="430.65" y="211.00" width="11.50" height="2.40" rx="1.20" fill="#d0d0d0" filter="url(#b1)"/>
<rect x="445.25" y="211.00" width="11.50" height="2.40" rx="1.20" fill="#b4b4b4" filter="url(#b1)"/>
<rect x="458.95" y="211.00" width="11.50" height="2.40" rx="1.20" fill="#c8c8c8" filter="url(#b1)"/>
<rect x="472.95" y="211.00" width="11.50" height="2.40" rx="1.20" fill="#b0b0b0" filter="url(#b1)"/>
<rect x="487.35" y="211.00" width="11.50" height="2.40" rx="1.20" fill="#808080" filter="url(#b1)"/>
<rect x="501.75" y="211.00" width="11.50" height="2.40" rx="1.20" fill="#909090" filter="url(#b1)"/>
<rect x="430.65" y="217.20" width="11.50" height="2.80" rx="1.40" fill="#cccccc" filter="url(#b1)"/>
<rect x="445.25" y="217.20" width="11.50" height="2.80" rx="1.40" fill="#b0b0b0" filter="url(#b1)"/>
<rect x="458.95" y="217.20" width="11.50" height="2.80" rx="1.40" fill="#c4c4c4" filter="url(#b1)"/>
<rect x="472.95" y="217.20" width="11.50" height="2.80" rx="1.40" fill="#a0a0a0" filter="url(#b1)"/>
<rect x="487.35" y="217.20" width="11.50" height="2.80" rx="1.40" fill="#151515" filter="url(#b1)"/>
<rect x="501.75" y="217.20" width="11.50" height="2.80" rx="1.40" fill="#333" filter="url(#b1)"/>
</g>
<clipPath id="c24"><rect x="426.9" y="230.2" width="90.10000000000002" height="17.80000000000001"/></clipPath>
<g clip-path="url(#c24)">
<rect x="426.90" y="230.20" width="90.10" height="17.80" fill="#a2a2a2"/>
<rect x="430.15" y="236.30" width="12.50" height="3.40" rx="1.70" fill="#151515" filter="url(#b1)"/>
<rect x="444.75" y="236.30" width="12.50" height="3.40" rx="1.70" fill="#151515" filter="url(#b1)"/>
<rect x="458.45" y="236.30" width="12.50" height="3.40" rx="1.70" fill="#151515" filter="url(#b1)"/>
<rect x="472.45" y="236.30" width="12.50" height="3.40" rx="1.70" fill="#151515" filter="url(#b1)"/>
<rect x="486.85" y="236.30" width="12.50" height="3.40" rx="1.70" fill="#151515" filter="url(#b1)"/>
<rect x="501.25" y="236.30" width="12.50" height="3.40" rx="1.70" fill="#151515" filter="url(#b1)"/>
</g>
<text x="367.30" y="257.79" font-size="7.8" font-weight="bold" text-anchor="middle" fill="#111" stroke="#111" stroke-width="0.26">K562</text>
<text x="469.90" y="257.86" font-size="8.0" font-weight="bold" text-anchor="middle" fill="#111" stroke="#111" stroke-width="0.26">LAMA 84</text>
<text x="277.30" y="56.10" font-size="8.15" font-weight="bold" text-anchor="start" fill="#111" stroke="#111" stroke-width="0.38">Caspase-9</text>
<text x="277.30" y="83.70" font-size="8.15" font-weight="bold" text-anchor="start" fill="#111" stroke="#111" stroke-width="0.38">Cleaved</text>
<text x="277.30" y="93.60" font-size="8.15" font-weight="bold" text-anchor="start" fill="#111" stroke="#111" stroke-width="0.38">Caspase-3</text>
<text x="295.70" y="110.80" font-size="7.9" font-weight="bold" text-anchor="middle" fill="#111" stroke="#111" stroke-width="0.38">Actin</text>
<text x="275.60" y="187.90" font-size="8.15" font-weight="bold" text-anchor="start" fill="#111" stroke="#111" stroke-width="0.38">Caspase-9</text>
<text x="275.60" y="215.30" font-size="8.15" font-weight="bold" text-anchor="start" fill="#111" stroke="#111" stroke-width="0.38">Cleaved</text>
<text x="275.60" y="225.10" font-size="8.15" font-weight="bold" text-anchor="start" fill="#111" stroke="#111" stroke-width="0.38">Caspase-3</text>
<text x="294.00" y="242.80" font-size="7.9" font-weight="bold" text-anchor="middle" fill="#111" stroke="#111" stroke-width="0.38">Actin</text>
<line x1="21.90" y1="303.70" x2="21.90" y2="371.75" stroke="#111" stroke-width="1.1"/>
<line x1="21.50" y1="371.25" x2="120.50" y2="371.25" stroke="#111" stroke-width="1.1"/>
<line x1="19.90" y1="371.25" x2="21.90" y2="371.25" stroke="#111" stroke-width="0.8"/>
<text x="19.50" y="372.80" font-size="4.3" font-weight="normal" text-anchor="end" fill="#111" stroke="#111" stroke-width="0.2">0</text>
<line x1="19.90" y1="361.64" x2="21.90" y2="361.64" stroke="#111" stroke-width="0.8"/>
<text x="19.50" y="363.19" font-size="4.3" font-weight="normal" text-anchor="end" fill="#111" stroke="#111" stroke-width="0.2">10</text>
<line x1="19.90" y1="352.04" x2="21.90" y2="352.04" stroke="#111" stroke-width="0.8"/>
<text x="19.50" y="353.58" font-size="4.3" font-weight="normal" text-anchor="end" fill="#111" stroke="#111" stroke-width="0.2">20</text>
<line x1="19.90" y1="342.43" x2="21.90" y2="342.43" stroke="#111" stroke-width="0.8"/>
<text x="19.50" y="343.98" font-size="4.3" font-weight="normal" text-anchor="end" fill="#111" stroke="#111" stroke-width="0.2">30</text>
<line x1="19.90" y1="332.82" x2="21.90" y2="332.82" stroke="#111" stroke-width="0.8"/>
<text x="19.50" y="334.37" font-size="4.3" font-weight="normal" text-anchor="end" fill="#111" stroke="#111" stroke-width="0.2">40</text>
<line x1="19.90" y1="323.21" x2="21.90" y2="323.21" stroke="#111" stroke-width="0.8"/>
<text x="19.50" y="324.76" font-size="4.3" font-weight="normal" text-anchor="end" fill="#111" stroke="#111" stroke-width="0.2">50</text>
<line x1="19.90" y1="313.61" x2="21.90" y2="313.61" stroke="#111" stroke-width="0.8"/>
<text x="19.50" y="315.16" font-size="4.3" font-weight="normal" text-anchor="end" fill="#111" stroke="#111" stroke-width="0.2">60</text>
<line x1="19.90" y1="304.00" x2="21.90" y2="304.00" stroke="#111" stroke-width="0.8"/>
<text x="19.50" y="305.55" font-size="4.3" font-weight="normal" text-anchor="end" fill="#111" stroke="#111" stroke-width="0.2">70</text>
<line x1="24.80" y1="368.85" x2="24.80" y2="369.33" stroke="#111" stroke-width="0.7"/>
<line x1="23.83" y1="368.85" x2="25.77" y2="368.85" stroke="#111" stroke-width="0.7"/>
<rect x="22.60" y="369.33" width="4.40" height="1.92" fill="url(#pctrl)" stroke="#111" stroke-width="0.9"/>
<line x1="24.80" y1="371.25" x2="24.80" y2="372.55" stroke="#111" stroke-width="0.6"/>
<line x1="31.00" y1="367.60" x2="31.00" y2="368.37" stroke="#111" stroke-width="0.7"/>
<line x1="30.03" y1="367.60" x2="31.97" y2="367.60" stroke="#111" stroke-width="0.7"/>
<rect x="28.80" y="368.37" width="4.40" height="2.88" fill="url(#pcq)" stroke="#111" stroke-width="0.9"/>
<line x1="31.00" y1="371.25" x2="31.00" y2="372.55" stroke="#111" stroke-width="0.6"/>
<line x1="37.20" y1="369.52" x2="37.20" y2="369.81" stroke="#111" stroke-width="0.7"/>
<line x1="36.23" y1="369.52" x2="38.17" y2="369.52" stroke="#111" stroke-width="0.7"/>
<rect x="35.00" y="369.81" width="4.40" height="1.44" fill="url(#pchk)" stroke="#111" stroke-width="0.9"/>
<line x1="37.20" y1="371.25" x2="37.20" y2="372.55" stroke="#111" stroke-width="0.6"/>
<line x1="43.40" y1="369.52" x2="43.40" y2="369.81" stroke="#111" stroke-width="0.7"/>
<line x1="42.43" y1="369.52" x2="44.37" y2="369.52" stroke="#111" stroke-width="0.7"/>
<rect x="41.20" y="369.81" width="4.40" height="1.44" fill="url(#psaha)" stroke="#111" stroke-width="0.9"/>
<line x1="43.40" y1="371.25" x2="43.40" y2="372.55" stroke="#111" stroke-width="0.6"/>
<line x1="49.60" y1="370.00" x2="49.60" y2="370.29" stroke="#111" stroke-width="0.7"/>
<line x1="48.63" y1="370.00" x2="50.57" y2="370.00" stroke="#111" stroke-width="0.7"/>
<rect x="47.40" y="370.29" width="4.40" height="0.96" fill="url(#psaha)" stroke="#111" stroke-width="0.9"/>
<line x1="49.60" y1="371.25" x2="49.60" y2="372.55" stroke="#111" stroke-width="0.6"/>
<line x1="55.80" y1="369.52" x2="55.80" y2="369.81" stroke="#111" stroke-width="0.7"/>
<line x1="54.83" y1="369.52" x2="56.77" y2="369.52" stroke="#111" stroke-width="0.7"/>
<rect x="53.60" y="369.81" width="4.40" height="1.44" fill="url(#psaha)" stroke="#111" stroke-width="0.9"/>
<line x1="55.80" y1="371.25" x2="55.80" y2="372.55" stroke="#111" stroke-width="0.6"/>
<line x1="62.00" y1="367.12" x2="62.00" y2="367.89" stroke="#111" stroke-width="0.7"/>
<line x1="61.03" y1="367.12" x2="62.97" y2="367.12" stroke="#111" stroke-width="0.7"/>
<rect x="59.80" y="367.89" width="4.40" height="3.36" fill="url(#pcq)" stroke="#111" stroke-width="0.9"/>
<line x1="62.00" y1="371.25" x2="62.00" y2="372.55" stroke="#111" stroke-width="0.6"/>
<line x1="68.20" y1="367.89" x2="68.20" y2="368.37" stroke="#111" stroke-width="0.7"/>
<line x1="67.23" y1="367.89" x2="69.17" y2="367.89" stroke="#111" stroke-width="0.7"/>
<rect x="66.00" y="368.37" width="4.40" height="2.88" fill="url(#pchk)" stroke="#111" stroke-width="0.9"/>
<line x1="68.20" y1="371.25" x2="68.20" y2="372.55" stroke="#111" stroke-width="0.6"/>
<line x1="74.40" y1="350.59" x2="74.40" y2="352.04" stroke="#111" stroke-width="0.7"/>
<line x1="73.43" y1="350.59" x2="75.37" y2="350.59" stroke="#111" stroke-width="0.7"/>
<rect x="72.20" y="352.04" width="4.40" height="19.21" fill="url(#psaha)" stroke="#111" stroke-width="0.9"/>
<line x1="74.40" y1="371.25" x2="74.40" y2="372.55" stroke="#111" stroke-width="0.6"/>
<line x1="80.60" y1="344.35" x2="80.60" y2="347.23" stroke="#111" stroke-width="0.7"/>
<line x1="79.63" y1="344.35" x2="81.57" y2="344.35" stroke="#111" stroke-width="0.7"/>
<rect x="78.40" y="347.23" width="4.40" height="24.02" fill="url(#psaha)" stroke="#111" stroke-width="0.9"/>
<line x1="80.60" y1="371.25" x2="80.60" y2="372.55" stroke="#111" stroke-width="0.6"/>
<line x1="86.80" y1="335.70" x2="86.80" y2="337.62" stroke="#111" stroke-width="0.7"/>
<line x1="85.83" y1="335.70" x2="87.77" y2="335.70" stroke="#111" stroke-width="0.7"/>
<rect x="84.60" y="337.62" width="4.40" height="33.62" fill="url(#psaha)" stroke="#111" stroke-width="0.9"/>
<line x1="86.80" y1="371.25" x2="86.80" y2="372.55" stroke="#111" stroke-width="0.6"/>
<line x1="93.00" y1="360.68" x2="93.00" y2="362.12" stroke="#111" stroke-width="0.7"/>
<line x1="92.03" y1="360.68" x2="93.97" y2="360.68" stroke="#111" stroke-width="0.7"/>
<rect x="90.80" y="362.12" width="4.40" height="9.13" fill="url(#pcq)" stroke="#111" stroke-width="0.9"/>
<line x1="93.00" y1="371.25" x2="93.00" y2="372.55" stroke="#111" stroke-width="0.6"/>
<line x1="99.20" y1="363.28" x2="99.20" y2="363.76" stroke="#111" stroke-width="0.7"/>
<line x1="98.23" y1="363.28" x2="100.17" y2="363.28" stroke="#111" stroke-width="0.7"/>
<rect x="97.00" y="363.76" width="4.40" height="7.49" fill="url(#pchk)" stroke="#111" stroke-width="0.9"/>
<line x1="99.20" y1="371.25" x2="99.20" y2="372.55" stroke="#111" stroke-width="0.6"/>
<line x1="105.40" y1="336.38" x2="105.40" y2="336.86" stroke="#111" stroke-width="0.7"/>
<line x1="104.43" y1="336.38" x2="106.37" y2="336.38" stroke="#111" stroke-width="0.7"/>
<rect x="103.20" y="336.86" width="4.40" height="34.39" fill="url(#psaha)" stroke="#111" stroke-width="0.9"/>
<line x1="105.40" y1="371.25" x2="105.40" y2="372.55" stroke="#111" stroke-width="0.6"/>
<line x1="111.60" y1="313.13" x2="111.60" y2="316.01" stroke="#111" stroke-width="0.7"/>
<line x1="110.63" y1="313.13" x2="112.57" y2="313.13" stroke="#111" stroke-width="0.7"/>
<rect x="109.40" y="316.01" width="4.40" height="55.24" fill="url(#psaha)" stroke="#111" stroke-width="0.9"/>
<line x1="111.60" y1="371.25" x2="111.60" y2="372.55" stroke="#111" stroke-width="0.6"/>
<circle cx="111.60" cy="308.30" r="1.4" fill="#111"/>
<line x1="117.80" y1="312.65" x2="117.80" y2="313.61" stroke="#111" stroke-width="0.7"/>
<line x1="116.83" y1="312.65" x2="118.77" y2="312.65" stroke="#111" stroke-width="0.7"/>
<rect x="115.60" y="313.61" width="4.40" height="57.64" fill="url(#psaha)" stroke="#111" stroke-width="0.9"/>
<line x1="117.80" y1="371.25" x2="117.80" y2="372.55" stroke="#111" stroke-width="0.6"/>
<circle cx="117.80" cy="309.20" r="1.4" fill="#111"/>
<text x="25.60" y="378.85" font-size="4.7" font-weight="bold" text-anchor="end" fill="#222" transform="rotate(-45 25.60 378.85)" stroke="#222" stroke-width="0.12">Control</text>
<text x="31.80" y="378.85" font-size="4.7" font-weight="bold" text-anchor="end" fill="#222" transform="rotate(-45 31.80 378.85)" stroke="#222" stroke-width="0.12">CQ</text>
<text x="38.00" y="378.85" font-size="4.7" font-weight="bold" text-anchor="end" fill="#222" transform="rotate(-45 38.00 378.85)" stroke="#222" stroke-width="0.12">3-MA</text>
<text x="44.20" y="378.85" font-size="4.7" font-weight="bold" text-anchor="end" fill="#222" transform="rotate(-45 44.20 378.85)" stroke="#222" stroke-width="0.12">SAHA</text>
<text x="50.40" y="378.85" font-size="4.7" font-weight="bold" text-anchor="end" fill="#222" transform="rotate(-45 50.40 378.85)" stroke="#222" stroke-width="0.12">CQ + SAHA</text>
<text x="56.60" y="378.85" font-size="4.7" font-weight="bold" text-anchor="end" fill="#222" transform="rotate(-45 56.60 378.85)" stroke="#222" stroke-width="0.12">3-MA + SAHA</text>
<text x="62.80" y="378.85" font-size="4.7" font-weight="bold" text-anchor="end" fill="#222" transform="rotate(-45 62.80 378.85)" stroke="#222" stroke-width="0.12">CQ</text>
<text x="69.00" y="378.85" font-size="4.7" font-weight="bold" text-anchor="end" fill="#222" transform="rotate(-45 69.00 378.85)" stroke="#222" stroke-width="0.12">3-MA</text>
<text x="75.20" y="378.85" font-size="4.7" font-weight="bold" text-anchor="end" fill="#222" transform="rotate(-45 75.20 378.85)" stroke="#222" stroke-width="0.12">SAHA</text>
<text x="81.40" y="378.85" font-size="4.7" font-weight="bold" text-anchor="end" fill="#222" transform="rotate(-45 81.40 378.85)" stroke="#222" stroke-width="0.12">CQ + SAHA</text>
<text x="87.60" y="378.85" font-size="4.7" font-weight="bold" text-anchor="end" fill="#222" transform="rotate(-45 87.60 378.85)" stroke="#222" stroke-width="0.12">3-MA + SAHA</text>
<text x="93.80" y="378.85" font-size="4.7" font-weight="bold" text-anchor="end" fill="#222" transform="rotate(-45 93.80 378.85)" stroke="#222" stroke-width="0.12">CQ</text>
<text x="100.00" y="378.85" font-size="4.7" font-weight="bold" text-anchor="end" fill="#222" transform="rotate(-45 100.00 378.85)" stroke="#222" stroke-width="0.12">3-MA</text>
<text x="106.20" y="378.85" font-size="4.7" font-weight="bold" text-anchor="end" fill="#222" transform="rotate(-45 106.20 378.85)" stroke="#222" stroke-width="0.12">SAHA</text>
<text x="112.40" y="378.85" font-size="4.7" font-weight="bold" text-anchor="end" fill="#222" transform="rotate(-45 112.40 378.85)" stroke="#222" stroke-width="0.12">CQ + SAHA</text>
<text x="118.60" y="378.85" font-size="4.7" font-weight="bold" text-anchor="end" fill="#222" transform="rotate(-45 118.60 378.85)" stroke="#222" stroke-width="0.12">3-MA + SAHA</text>
<text x="70.00" y="301.60" font-size="8" font-weight="bold" text-anchor="middle" fill="#111" stroke="#111" stroke-width="0.26">Ba/F3 p210</text>
<text x="7.90" y="335.50" font-size="5.9" font-weight="normal" text-anchor="middle" fill="#111" transform="rotate(-90 7.90 335.50)" stroke="#111" stroke-width="0.22">% Mitochondrial Depolarization</text>
<line x1="23.75" y1="407.50" x2="48.75" y2="407.50" stroke="#111" stroke-width="1.4"/>
<text x="36.25" y="415.30" font-size="6.2" font-weight="bold" text-anchor="middle" fill="#111" stroke="#111" stroke-width="0.26">6h</text>
<line x1="57.50" y1="407.50" x2="82.50" y2="407.50" stroke="#111" stroke-width="1.4"/>
<text x="70.00" y="415.30" font-size="6.2" font-weight="bold" text-anchor="middle" fill="#111" stroke="#111" stroke-width="0.26">12h</text>
<line x1="91.25" y1="407.50" x2="116.25" y2="407.50" stroke="#111" stroke-width="1.4"/>
<text x="103.75" y="415.30" font-size="6.2" font-weight="bold" text-anchor="middle" fill="#111" stroke="#111" stroke-width="0.26">24h</text>
<line x1="145.00" y1="303.45" x2="145.00" y2="371.25" stroke="#111" stroke-width="1.1"/>
<line x1="144.60" y1="370.75" x2="243.50" y2="370.75" stroke="#111" stroke-width="1.1"/>
<line x1="143.00" y1="370.75" x2="145.00" y2="370.75" stroke="#111" stroke-width="0.8"/>
<text x="142.60" y="372.30" font-size="4.3" font-weight="normal" text-anchor="end" fill="#111" stroke="#111" stroke-width="0.2">0</text>
<line x1="143.00" y1="361.18" x2="145.00" y2="361.18" stroke="#111" stroke-width="0.8"/>
<text x="142.60" y="362.73" font-size="4.3" font-weight="normal" text-anchor="end" fill="#111" stroke="#111" stroke-width="0.2">10</text>
<line x1="143.00" y1="351.61" x2="145.00" y2="351.61" stroke="#111" stroke-width="0.8"/>
<text x="142.60" y="353.16" font-size="4.3" font-weight="normal" text-anchor="end" fill="#111" stroke="#111" stroke-width="0.2">20</text>
<line x1="143.00" y1="342.04" x2="145.00" y2="342.04" stroke="#111" stroke-width="0.8"/>
<text x="142.60" y="343.58" font-size="4.3" font-weight="normal" text-anchor="end" fill="#111" stroke="#111" stroke-width="0.2">30</text>
<line x1="143.00" y1="332.46" x2="145.00" y2="332.46" stroke="#111" stroke-width="0.8"/>
<text x="142.60" y="334.01" font-size="4.3" font-weight="normal" text-anchor="end" fill="#111" stroke="#111" stroke-width="0.2">40</text>
<line x1="143.00" y1="322.89" x2="145.00" y2="322.89" stroke="#111" stroke-width="0.8"/>
<text x="142.60" y="324.44" font-size="4.3" font-weight="normal" text-anchor="end" fill="#111" stroke="#111" stroke-width="0.2">50</text>
<line x1="143.00" y1="313.32" x2="145.00" y2="313.32" stroke="#111" stroke-width="0.8"/>
<text x="142.60" y="314.87" font-size="4.3" font-weight="normal" text-anchor="end" fill="#111" stroke="#111" stroke-width="0.2">60</text>
<line x1="143.00" y1="303.75" x2="145.00" y2="303.75" stroke="#111" stroke-width="0.8"/>
<text x="142.60" y="305.30" font-size="4.3" font-weight="normal" text-anchor="end" fill="#111" stroke="#111" stroke-width="0.2">70</text>
<line x1="148.75" y1="368.36" x2="148.75" y2="368.84" stroke="#111" stroke-width="0.7"/>
<line x1="147.78" y1="368.36" x2="149.72" y2="368.36" stroke="#111" stroke-width="0.7"/>
<rect x="146.55" y="368.84" width="4.40" height="1.91" fill="url(#pctrl)" stroke="#111" stroke-width="0.9"/>
<line x1="148.75" y1="370.75" x2="148.75" y2="372.05" stroke="#111" stroke-width="0.6"/>
<line x1="154.87" y1="367.11" x2="154.87" y2="367.88" stroke="#111" stroke-width="0.7"/>
<line x1="153.90" y1="367.11" x2="155.84" y2="367.11" stroke="#111" stroke-width="0.7"/>
<rect x="152.67" y="367.88" width="4.40" height="2.87" fill="url(#pcq)" stroke="#111" stroke-width="0.9"/>
<line x1="154.87" y1="370.75" x2="154.87" y2="372.05" stroke="#111" stroke-width="0.6"/>
<line x1="160.99" y1="369.03" x2="160.99" y2="369.31" stroke="#111" stroke-width="0.7"/>
<line x1="160.02" y1="369.03" x2="161.96" y2="369.03" stroke="#111" stroke-width="0.7"/>
<rect x="158.79" y="369.31" width="4.40" height="1.44" fill="url(#pchk)" stroke="#111" stroke-width="0.9"/>
<line x1="160.99" y1="370.75" x2="160.99" y2="372.05" stroke="#111" stroke-width="0.6"/>
<line x1="167.11" y1="369.03" x2="167.11" y2="369.31" stroke="#111" stroke-width="0.7"/>
<line x1="166.14" y1="369.03" x2="168.08" y2="369.03" stroke="#111" stroke-width="0.7"/>
<rect x="164.91" y="369.31" width="4.40" height="1.44" fill="url(#psaha)" stroke="#111" stroke-width="0.9"/>
<line x1="167.11" y1="370.75" x2="167.11" y2="372.05" stroke="#111" stroke-width="0.6"/>
<line x1="173.23" y1="369.51" x2="173.23" y2="369.79" stroke="#111" stroke-width="0.7"/>
<line x1="172.26" y1="369.51" x2="174.20" y2="369.51" stroke="#111" stroke-width="0.7"/>
<rect x="171.03" y="369.79" width="4.40" height="0.96" fill="url(#psaha)" stroke="#111" stroke-width="0.9"/>
<line x1="173.23" y1="370.75" x2="173.23" y2="372.05" stroke="#111" stroke-width="0.6"/>
<line x1="179.35" y1="369.03" x2="179.35" y2="369.31" stroke="#111" stroke-width="0.7"/>
<line x1="178.38" y1="369.03" x2="180.32" y2="369.03" stroke="#111" stroke-width="0.7"/>
<rect x="177.15" y="369.31" width="4.40" height="1.44" fill="url(#psaha)" stroke="#111" stroke-width="0.9"/>
<line x1="179.35" y1="370.75" x2="179.35" y2="372.05" stroke="#111" stroke-width="0.6"/>
<line x1="185.47" y1="366.63" x2="185.47" y2="367.40" stroke="#111" stroke-width="0.7"/>
<line x1="184.50" y1="366.63" x2="186.44" y2="366.63" stroke="#111" stroke-width="0.7"/>
<rect x="183.27" y="367.40" width="4.40" height="3.35" fill="url(#pcq)" stroke="#111" stroke-width="0.9"/>
<line x1="185.47" y1="370.75" x2="185.47" y2="372.05" stroke="#111" stroke-width="0.6"/>
<line x1="191.59" y1="367.40" x2="191.59" y2="367.88" stroke="#111" stroke-width="0.7"/>
<line x1="190.62" y1="367.40" x2="192.56" y2="367.40" stroke="#111" stroke-width="0.7"/>
<rect x="189.39" y="367.88" width="4.40" height="2.87" fill="url(#pchk)" stroke="#111" stroke-width="0.9"/>
<line x1="191.59" y1="370.75" x2="191.59" y2="372.05" stroke="#111" stroke-width="0.6"/>
<line x1="197.71" y1="350.17" x2="197.71" y2="351.61" stroke="#111" stroke-width="0.7"/>
<line x1="196.74" y1="350.17" x2="198.68" y2="350.17" stroke="#111" stroke-width="0.7"/>
<rect x="195.51" y="351.61" width="4.40" height="19.14" fill="url(#psaha)" stroke="#111" stroke-width="0.9"/>
<line x1="197.71" y1="370.75" x2="197.71" y2="372.05" stroke="#111" stroke-width="0.6"/>
<line x1="203.83" y1="343.95" x2="203.83" y2="346.82" stroke="#111" stroke-width="0.7"/>
<line x1="202.86" y1="343.95" x2="204.80" y2="343.95" stroke="#111" stroke-width="0.7"/>
<rect x="201.63" y="346.82" width="4.40" height="23.93" fill="url(#psaha)" stroke="#111" stroke-width="0.9"/>
<line x1="203.83" y1="370.75" x2="203.83" y2="372.05" stroke="#111" stroke-width="0.6"/>
<line x1="209.95" y1="335.34" x2="209.95" y2="337.25" stroke="#111" stroke-width="0.7"/>
<line x1="208.98" y1="335.34" x2="210.92" y2="335.34" stroke="#111" stroke-width="0.7"/>
<rect x="207.75" y="337.25" width="4.40" height="33.50" fill="url(#psaha)" stroke="#111" stroke-width="0.9"/>
<line x1="209.95" y1="370.75" x2="209.95" y2="372.05" stroke="#111" stroke-width="0.6"/>
<line x1="216.07" y1="360.22" x2="216.07" y2="361.66" stroke="#111" stroke-width="0.7"/>
<line x1="215.10" y1="360.22" x2="217.04" y2="360.22" stroke="#111" stroke-width="0.7"/>
<rect x="213.87" y="361.66" width="4.40" height="9.09" fill="url(#pcq)" stroke="#111" stroke-width="0.9"/>
<line x1="216.07" y1="370.75" x2="216.07" y2="372.05" stroke="#111" stroke-width="0.6"/>
<line x1="222.19" y1="362.81" x2="222.19" y2="363.28" stroke="#111" stroke-width="0.7"/>
<line x1="221.22" y1="362.81" x2="223.16" y2="362.81" stroke="#111" stroke-width="0.7"/>
<rect x="219.99" y="363.28" width="4.40" height="7.47" fill="url(#pchk)" stroke="#111" stroke-width="0.9"/>
<line x1="222.19" y1="370.75" x2="222.19" y2="372.05" stroke="#111" stroke-width="0.6"/>
<line x1="228.31" y1="336.01" x2="228.31" y2="336.48" stroke="#111" stroke-width="0.7"/>
<line x1="227.34" y1="336.01" x2="229.28" y2="336.01" stroke="#111" stroke-width="0.7"/>
<rect x="226.11" y="336.48" width="4.40" height="34.27" fill="url(#psaha)" stroke="#111" stroke-width="0.9"/>
<line x1="228.31" y1="370.75" x2="228.31" y2="372.05" stroke="#111" stroke-width="0.6"/>
<line x1="234.43" y1="312.84" x2="234.43" y2="315.71" stroke="#111" stroke-width="0.7"/>
<line x1="233.46" y1="312.84" x2="235.40" y2="312.84" stroke="#111" stroke-width="0.7"/>
<rect x="232.23" y="315.71" width="4.40" height="55.04" fill="url(#psaha)" stroke="#111" stroke-width="0.9"/>
<line x1="234.43" y1="370.75" x2="234.43" y2="372.05" stroke="#111" stroke-width="0.6"/>
<circle cx="234.43" cy="307.00" r="1.4" fill="#111"/>
<line x1="240.55" y1="312.36" x2="240.55" y2="313.32" stroke="#111" stroke-width="0.7"/>
<line x1="239.58" y1="312.36" x2="241.52" y2="312.36" stroke="#111" stroke-width="0.7"/>
<rect x="238.35" y="313.32" width="4.40" height="57.43" fill="url(#psaha)" stroke="#111" stroke-width="0.9"/>
<line x1="240.55" y1="370.75" x2="240.55" y2="372.05" stroke="#111" stroke-width="0.6"/>
<circle cx="240.55" cy="308.50" r="1.4" fill="#111"/>
<text x="149.55" y="378.35" font-size="4.7" font-weight="bold" text-anchor="end" fill="#222" transform="rotate(-45 149.55 378.35)" stroke="#222" stroke-width="0.12">Control</text>
<text x="155.67" y="378.35" font-size="4.7" font-weight="bold" text-anchor="end" fill="#222" transform="rotate(-45 155.67 378.35)" stroke="#222" stroke-width="0.12">CQ</text>
<text x="161.79" y="378.35" font-size="4.7" font-weight="bold" text-anchor="end" fill="#222" transform="rotate(-45 161.79 378.35)" stroke="#222" stroke-width="0.12">3-MA</text>
<text x="167.91" y="378.35" font-size="4.7" font-weight="bold" text-anchor="end" fill="#222" transform="rotate(-45 167.91 378.35)" stroke="#222" stroke-width="0.12">SAHA</text>
<text x="174.03" y="378.35" font-size="4.7" font-weight="bold" text-anchor="end" fill="#222" transform="rotate(-45 174.03 378.35)" stroke="#222" stroke-width="0.12">CQ + SAHA</text>
<text x="180.15" y="378.35" font-size="4.7" font-weight="bold" text-anchor="end" fill="#222" transform="rotate(-45 180.15 378.35)" stroke="#222" stroke-width="0.12">3-MA + SAHA</text>
<text x="186.27" y="378.35" font-size="4.7" font-weight="bold" text-anchor="end" fill="#222" transform="rotate(-45 186.27 378.35)" stroke="#222" stroke-width="0.12">CQ</text>
<text x="192.39" y="378.35" font-size="4.7" font-weight="bold" text-anchor="end" fill="#222" transform="rotate(-45 192.39 378.35)" stroke="#222" stroke-width="0.12">3-MA</text>
<text x="198.51" y="378.35" font-size="4.7" font-weight="bold" text-anchor="end" fill="#222" transform="rotate(-45 198.51 378.35)" stroke="#222" stroke-width="0.12">SAHA</text>
<text x="204.63" y="378.35" font-size="4.7" font-weight="bold" text-anchor="end" fill="#222" transform="rotate(-45 204.63 378.35)" stroke="#222" stroke-width="0.12">CQ + SAHA</text>
<text x="210.75" y="378.35" font-size="4.7" font-weight="bold" text-anchor="end" fill="#222" transform="rotate(-45 210.75 378.35)" stroke="#222" stroke-width="0.12">3-MA + SAHA</text>
<text x="216.87" y="378.35" font-size="4.7" font-weight="bold" text-anchor="end" fill="#222" transform="rotate(-45 216.87 378.35)" stroke="#222" stroke-width="0.12">CQ</text>
<text x="222.99" y="378.35" font-size="4.7" font-weight="bold" text-anchor="end" fill="#222" transform="rotate(-45 222.99 378.35)" stroke="#222" stroke-width="0.12">3-MA</text>
<text x="229.11" y="378.35" font-size="4.7" font-weight="bold" text-anchor="end" fill="#222" transform="rotate(-45 229.11 378.35)" stroke="#222" stroke-width="0.12">SAHA</text>
<text x="235.23" y="378.35" font-size="4.7" font-weight="bold" text-anchor="end" fill="#222" transform="rotate(-45 235.23 378.35)" stroke="#222" stroke-width="0.12">CQ + SAHA</text>
<text x="241.35" y="378.35" font-size="4.7" font-weight="bold" text-anchor="end" fill="#222" transform="rotate(-45 241.35 378.35)" stroke="#222" stroke-width="0.12">3-MA + SAHA</text>
<text x="195.00" y="301.60" font-size="8" font-weight="bold" text-anchor="middle" fill="#111" stroke="#111" stroke-width="0.26">Ba/F3 T315I</text>
<text x="131.50" y="335.50" font-size="5.9" font-weight="normal" text-anchor="middle" fill="#111" transform="rotate(-90 131.50 335.50)" stroke="#111" stroke-width="0.22">% Mitochondrial Depolarization</text>
<line x1="147.50" y1="407.30" x2="172.50" y2="407.30" stroke="#111" stroke-width="1.4"/>
<text x="160.00" y="415.60" font-size="6.2" font-weight="bold" text-anchor="middle" fill="#111" stroke="#111" stroke-width="0.26">6h</text>
<line x1="181.00" y1="407.30" x2="206.00" y2="407.30" stroke="#111" stroke-width="1.4"/>
<text x="193.50" y="415.60" font-size="6.2" font-weight="bold" text-anchor="middle" fill="#111" stroke="#111" stroke-width="0.26">12h</text>
<line x1="214.50" y1="407.30" x2="239.50" y2="407.30" stroke="#111" stroke-width="1.4"/>
<text x="227.00" y="415.60" font-size="6.2" font-weight="bold" text-anchor="middle" fill="#111" stroke="#111" stroke-width="0.26">24h</text>
<line x1="21.80" y1="453.20" x2="21.80" y2="520.30" stroke="#111" stroke-width="1.1"/>
<line x1="21.40" y1="519.80" x2="121.00" y2="519.80" stroke="#111" stroke-width="1.1"/>
<line x1="19.80" y1="519.80" x2="21.80" y2="519.80" stroke="#111" stroke-width="0.8"/>
<text x="19.40" y="521.35" font-size="4.3" font-weight="normal" text-anchor="end" fill="#111" stroke="#111" stroke-width="0.2">0</text>
<line x1="19.80" y1="506.54" x2="21.80" y2="506.54" stroke="#111" stroke-width="0.8"/>
<text x="19.40" y="508.09" font-size="4.3" font-weight="normal" text-anchor="end" fill="#111" stroke="#111" stroke-width="0.2">10</text>
<line x1="19.80" y1="493.28" x2="21.80" y2="493.28" stroke="#111" stroke-width="0.8"/>
<text x="19.40" y="494.83" font-size="4.3" font-weight="normal" text-anchor="end" fill="#111" stroke="#111" stroke-width="0.2">20</text>
<line x1="19.80" y1="480.02" x2="21.80" y2="480.02" stroke="#111" stroke-width="0.8"/>
<text x="19.40" y="481.57" font-size="4.3" font-weight="normal" text-anchor="end" fill="#111" stroke="#111" stroke-width="0.2">30</text>
<line x1="19.80" y1="466.76" x2="21.80" y2="466.76" stroke="#111" stroke-width="0.8"/>
<text x="19.40" y="468.31" font-size="4.3" font-weight="normal" text-anchor="end" fill="#111" stroke="#111" stroke-width="0.2">40</text>
<line x1="19.80" y1="453.50" x2="21.80" y2="453.50" stroke="#111" stroke-width="0.8"/>
<text x="19.40" y="455.05" font-size="4.3" font-weight="normal" text-anchor="end" fill="#111" stroke="#111" stroke-width="0.2">50</text>
<line x1="25.50" y1="509.59" x2="25.50" y2="509.99" stroke="#111" stroke-width="0.7"/>
<line x1="24.53" y1="509.59" x2="26.47" y2="509.59" stroke="#111" stroke-width="0.7"/>
<rect x="23.30" y="509.99" width="4.40" height="9.81" fill="url(#pctrl)" stroke="#111" stroke-width="0.9"/>
<line x1="25.50" y1="519.80" x2="25.50" y2="521.10" stroke="#111" stroke-width="0.6"/>
<line x1="31.64" y1="504.42" x2="31.64" y2="506.01" stroke="#111" stroke-width="0.7"/>
<line x1="30.67" y1="504.42" x2="32.61" y2="504.42" stroke="#111" stroke-width="0.7"/>
<rect x="29.44" y="506.01" width="4.40" height="13.79" fill="url(#pcq)" stroke="#111" stroke-width="0.9"/>
<line x1="31.64" y1="519.80" x2="31.64" y2="521.10" stroke="#111" stroke-width="0.6"/>
<line x1="37.78" y1="506.27" x2="37.78" y2="507.87" stroke="#111" stroke-width="0.7"/>
<line x1="36.81" y1="506.27" x2="38.75" y2="506.27" stroke="#111" stroke-width="0.7"/>
<rect x="35.58" y="507.87" width="4.40" height="11.93" fill="url(#pchk)" stroke="#111" stroke-width="0.9"/>
<line x1="37.78" y1="519.80" x2="37.78" y2="521.10" stroke="#111" stroke-width="0.6"/>
<line x1="43.92" y1="503.36" x2="43.92" y2="503.89" stroke="#111" stroke-width="0.7"/>
<line x1="42.95" y1="503.36" x2="44.89" y2="503.36" stroke="#111" stroke-width="0.7"/>
<rect x="41.72" y="503.89" width="4.40" height="15.91" fill="url(#psaha)" stroke="#111" stroke-width="0.9"/>
<line x1="43.92" y1="519.80" x2="43.92" y2="521.10" stroke="#111" stroke-width="0.6"/>
<line x1="50.06" y1="502.56" x2="50.06" y2="502.96" stroke="#111" stroke-width="0.7"/>
<line x1="49.09" y1="502.56" x2="51.03" y2="502.56" stroke="#111" stroke-width="0.7"/>
<rect x="47.86" y="502.96" width="4.40" height="16.84" fill="url(#psaha)" stroke="#111" stroke-width="0.9"/>
<line x1="50.06" y1="519.80" x2="50.06" y2="521.10" stroke="#111" stroke-width="0.6"/>
<line x1="56.20" y1="501.63" x2="56.20" y2="503.22" stroke="#111" stroke-width="0.7"/>
<line x1="55.23" y1="501.63" x2="57.17" y2="501.63" stroke="#111" stroke-width="0.7"/>
<rect x="54.00" y="503.22" width="4.40" height="16.57" fill="url(#psaha)" stroke="#111" stroke-width="0.9"/>
<line x1="56.20" y1="519.80" x2="56.20" y2="521.10" stroke="#111" stroke-width="0.6"/>
<line x1="62.34" y1="497.92" x2="62.34" y2="498.32" stroke="#111" stroke-width="0.7"/>
<line x1="61.37" y1="497.92" x2="63.31" y2="497.92" stroke="#111" stroke-width="0.7"/>
<rect x="60.14" y="498.32" width="4.40" height="21.48" fill="url(#pcq)" stroke="#111" stroke-width="0.9"/>
<line x1="62.34" y1="519.80" x2="62.34" y2="521.10" stroke="#111" stroke-width="0.6"/>
<line x1="68.48" y1="498.58" x2="68.48" y2="500.18" stroke="#111" stroke-width="0.7"/>
<line x1="67.51" y1="498.58" x2="69.45" y2="498.58" stroke="#111" stroke-width="0.7"/>
<rect x="66.28" y="500.18" width="4.40" height="19.62" fill="url(#pchk)" stroke="#111" stroke-width="0.9"/>
<line x1="68.48" y1="519.80" x2="68.48" y2="521.10" stroke="#111" stroke-width="0.6"/>
<line x1="74.62" y1="496.46" x2="74.62" y2="497.52" stroke="#111" stroke-width="0.7"/>
<line x1="73.65" y1="496.46" x2="75.59" y2="496.46" stroke="#111" stroke-width="0.7"/>
<rect x="72.42" y="497.52" width="4.40" height="22.28" fill="url(#psaha)" stroke="#111" stroke-width="0.9"/>
<line x1="74.62" y1="519.80" x2="74.62" y2="521.10" stroke="#111" stroke-width="0.6"/>
<line x1="80.76" y1="489.04" x2="80.76" y2="490.63" stroke="#111" stroke-width="0.7"/>
<line x1="79.79" y1="489.04" x2="81.73" y2="489.04" stroke="#111" stroke-width="0.7"/>
<rect x="78.56" y="490.63" width="4.40" height="29.17" fill="url(#psaha)" stroke="#111" stroke-width="0.9"/>
<line x1="80.76" y1="519.80" x2="80.76" y2="521.10" stroke="#111" stroke-width="0.6"/>
<line x1="86.90" y1="492.75" x2="86.90" y2="493.41" stroke="#111" stroke-width="0.7"/>
<line x1="85.93" y1="492.75" x2="87.87" y2="492.75" stroke="#111" stroke-width="0.7"/>
<rect x="84.70" y="493.41" width="4.40" height="26.39" fill="url(#psaha)" stroke="#111" stroke-width="0.9"/>
<line x1="86.90" y1="519.80" x2="86.90" y2="521.10" stroke="#111" stroke-width="0.6"/>
<line x1="93.04" y1="482.80" x2="93.04" y2="484.79" stroke="#111" stroke-width="0.7"/>
<line x1="92.07" y1="482.80" x2="94.01" y2="482.80" stroke="#111" stroke-width="0.7"/>
<rect x="90.84" y="484.79" width="4.40" height="35.01" fill="url(#pcq)" stroke="#111" stroke-width="0.9"/>
<line x1="93.04" y1="519.80" x2="93.04" y2="521.10" stroke="#111" stroke-width="0.6"/>
<line x1="99.18" y1="490.63" x2="99.18" y2="493.94" stroke="#111" stroke-width="0.7"/>
<line x1="98.21" y1="490.63" x2="100.15" y2="490.63" stroke="#111" stroke-width="0.7"/>
<rect x="96.98" y="493.94" width="4.40" height="25.86" fill="url(#pchk)" stroke="#111" stroke-width="0.9"/>
<line x1="99.18" y1="519.80" x2="99.18" y2="521.10" stroke="#111" stroke-width="0.6"/>
<line x1="105.32" y1="494.87" x2="105.32" y2="496.20" stroke="#111" stroke-width="0.7"/>
<line x1="104.35" y1="494.87" x2="106.29" y2="494.87" stroke="#111" stroke-width="0.7"/>
<rect x="103.12" y="496.20" width="4.40" height="23.60" fill="url(#psaha)" stroke="#111" stroke-width="0.9"/>
<line x1="105.32" y1="519.80" x2="105.32" y2="521.10" stroke="#111" stroke-width="0.6"/>
<line x1="111.46" y1="459.07" x2="111.46" y2="461.06" stroke="#111" stroke-width="0.7"/>
<line x1="110.49" y1="459.07" x2="112.43" y2="459.07" stroke="#111" stroke-width="0.7"/>
<rect x="109.26" y="461.06" width="4.40" height="58.74" fill="url(#psaha)" stroke="#111" stroke-width="0.9"/>
<line x1="111.46" y1="519.80" x2="111.46" y2="521.10" stroke="#111" stroke-width="0.6"/>
<circle cx="111.46" cy="454.10" r="1.4" fill="#111"/>
<line x1="117.60" y1="472.99" x2="117.60" y2="474.98" stroke="#111" stroke-width="0.7"/>
<line x1="116.63" y1="472.99" x2="118.57" y2="472.99" stroke="#111" stroke-width="0.7"/>
<rect x="115.40" y="474.98" width="4.40" height="44.82" fill="url(#psaha)" stroke="#111" stroke-width="0.9"/>
<line x1="117.60" y1="519.80" x2="117.60" y2="521.10" stroke="#111" stroke-width="0.6"/>
<circle cx="117.60" cy="469.20" r="1.4" fill="#111"/>
<text x="26.30" y="527.40" font-size="4.7" font-weight="bold" text-anchor="end" fill="#222" transform="rotate(-45 26.30 527.40)" stroke="#222" stroke-width="0.12">Control</text>
<text x="32.44" y="527.40" font-size="4.7" font-weight="bold" text-anchor="end" fill="#222" transform="rotate(-45 32.44 527.40)" stroke="#222" stroke-width="0.12">CQ</text>
<text x="38.58" y="527.40" font-size="4.7" font-weight="bold" text-anchor="end" fill="#222" transform="rotate(-45 38.58 527.40)" stroke="#222" stroke-width="0.12">3-MA</text>
<text x="44.72" y="527.40" font-size="4.7" font-weight="bold" text-anchor="end" fill="#222" transform="rotate(-45 44.72 527.40)" stroke="#222" stroke-width="0.12">SAHA</text>
<text x="50.86" y="527.40" font-size="4.7" font-weight="bold" text-anchor="end" fill="#222" transform="rotate(-45 50.86 527.40)" stroke="#222" stroke-width="0.12">CQ + SAHA</text>
<text x="57.00" y="527.40" font-size="4.7" font-weight="bold" text-anchor="end" fill="#222" transform="rotate(-45 57.00 527.40)" stroke="#222" stroke-width="0.12">3-MA + SAHA</text>
<text x="63.14" y="527.40" font-size="4.7" font-weight="bold" text-anchor="end" fill="#222" transform="rotate(-45 63.14 527.40)" stroke="#222" stroke-width="0.12">CQ</text>
<text x="69.28" y="527.40" font-size="4.7" font-weight="bold" text-anchor="end" fill="#222" transform="rotate(-45 69.28 527.40)" stroke="#222" stroke-width="0.12">3-MA</text>
<text x="75.42" y="527.40" font-size="4.7" font-weight="bold" text-anchor="end" fill="#222" transform="rotate(-45 75.42 527.40)" stroke="#222" stroke-width="0.12">SAHA</text>
<text x="81.56" y="527.40" font-size="4.7" font-weight="bold" text-anchor="end" fill="#222" transform="rotate(-45 81.56 527.40)" stroke="#222" stroke-width="0.12">CQ + SAHA</text>
<text x="87.70" y="527.40" font-size="4.7" font-weight="bold" text-anchor="end" fill="#222" transform="rotate(-45 87.70 527.40)" stroke="#222" stroke-width="0.12">3-MA + SAHA</text>
<text x="93.84" y="527.40" font-size="4.7" font-weight="bold" text-anchor="end" fill="#222" transform="rotate(-45 93.84 527.40)" stroke="#222" stroke-width="0.12">CQ</text>
<text x="99.98" y="527.40" font-size="4.7" font-weight="bold" text-anchor="end" fill="#222" transform="rotate(-45 99.98 527.40)" stroke="#222" stroke-width="0.12">3-MA</text>
<text x="106.12" y="527.40" font-size="4.7" font-weight="bold" text-anchor="end" fill="#222" transform="rotate(-45 106.12 527.40)" stroke="#222" stroke-width="0.12">SAHA</text>
<text x="112.26" y="527.40" font-size="4.7" font-weight="bold" text-anchor="end" fill="#222" transform="rotate(-45 112.26 527.40)" stroke="#222" stroke-width="0.12">CQ + SAHA</text>
<text x="118.40" y="527.40" font-size="4.7" font-weight="bold" text-anchor="end" fill="#222" transform="rotate(-45 118.40 527.40)" stroke="#222" stroke-width="0.12">3-MA + SAHA</text>
<text x="71.25" y="449.60" font-size="8" font-weight="bold" text-anchor="middle" fill="#111" stroke="#111" stroke-width="0.26">K562</text>
<text x="7.90" y="482.00" font-size="5.9" font-weight="normal" text-anchor="middle" fill="#111" transform="rotate(-90 7.90 482.00)" stroke="#111" stroke-width="0.22">% Mitochondrial Depolarization</text>
<line x1="21.25" y1="554.25" x2="46.25" y2="554.25" stroke="#111" stroke-width="1.4"/>
<text x="33.75" y="563.00" font-size="6.2" font-weight="bold" text-anchor="middle" fill="#111" stroke="#111" stroke-width="0.26">6h</text>
<line x1="55.00" y1="554.25" x2="80.00" y2="554.25" stroke="#111" stroke-width="1.4"/>
<text x="67.50" y="563.00" font-size="6.2" font-weight="bold" text-anchor="middle" fill="#111" stroke="#111" stroke-width="0.26">12h</text>
<line x1="89.50" y1="554.25" x2="114.50" y2="554.25" stroke="#111" stroke-width="1.4"/>
<text x="102.00" y="563.00" font-size="6.2" font-weight="bold" text-anchor="middle" fill="#111" stroke="#111" stroke-width="0.26">24h</text>
<line x1="148.00" y1="453.00" x2="148.00" y2="519.80" stroke="#111" stroke-width="1.1"/>
<line x1="147.60" y1="519.30" x2="245.00" y2="519.30" stroke="#111" stroke-width="1.1"/>
<line x1="146.00" y1="519.30" x2="148.00" y2="519.30" stroke="#111" stroke-width="0.8"/>
<text x="145.60" y="520.85" font-size="4.3" font-weight="normal" text-anchor="end" fill="#111" stroke="#111" stroke-width="0.2">0</text>
<line x1="146.00" y1="509.87" x2="148.00" y2="509.87" stroke="#111" stroke-width="0.8"/>
<text x="145.60" y="511.42" font-size="4.3" font-weight="normal" text-anchor="end" fill="#111" stroke="#111" stroke-width="0.2">10</text>
<line x1="146.00" y1="500.44" x2="148.00" y2="500.44" stroke="#111" stroke-width="0.8"/>
<text x="145.60" y="501.99" font-size="4.3" font-weight="normal" text-anchor="end" fill="#111" stroke="#111" stroke-width="0.2">20</text>
<line x1="146.00" y1="491.01" x2="148.00" y2="491.01" stroke="#111" stroke-width="0.8"/>
<text x="145.60" y="492.56" font-size="4.3" font-weight="normal" text-anchor="end" fill="#111" stroke="#111" stroke-width="0.2">30</text>
<line x1="146.00" y1="481.59" x2="148.00" y2="481.59" stroke="#111" stroke-width="0.8"/>
<text x="145.60" y="483.13" font-size="4.3" font-weight="normal" text-anchor="end" fill="#111" stroke="#111" stroke-width="0.2">40</text>
<line x1="146.00" y1="472.16" x2="148.00" y2="472.16" stroke="#111" stroke-width="0.8"/>
<text x="145.60" y="473.71" font-size="4.3" font-weight="normal" text-anchor="end" fill="#111" stroke="#111" stroke-width="0.2">50</text>
<line x1="146.00" y1="462.73" x2="148.00" y2="462.73" stroke="#111" stroke-width="0.8"/>
<text x="145.60" y="464.28" font-size="4.3" font-weight="normal" text-anchor="end" fill="#111" stroke="#111" stroke-width="0.2">60</text>
<line x1="146.00" y1="453.30" x2="148.00" y2="453.30" stroke="#111" stroke-width="0.8"/>
<text x="145.60" y="454.85" font-size="4.3" font-weight="normal" text-anchor="end" fill="#111" stroke="#111" stroke-width="0.2">70</text>
<line x1="150.40" y1="514.11" x2="150.40" y2="514.40" stroke="#111" stroke-width="0.7"/>
<line x1="149.43" y1="514.11" x2="151.37" y2="514.11" stroke="#111" stroke-width="0.7"/>
<rect x="148.20" y="514.40" width="4.40" height="4.90" fill="url(#pctrl)" stroke="#111" stroke-width="0.9"/>
<line x1="150.40" y1="519.30" x2="150.40" y2="520.60" stroke="#111" stroke-width="0.6"/>
<line x1="156.48" y1="510.25" x2="156.48" y2="513.08" stroke="#111" stroke-width="0.7"/>
<line x1="155.51" y1="510.25" x2="157.45" y2="510.25" stroke="#111" stroke-width="0.7"/>
<rect x="154.28" y="513.08" width="4.40" height="6.22" fill="url(#pcq)" stroke="#111" stroke-width="0.9"/>
<line x1="156.48" y1="519.30" x2="156.48" y2="520.60" stroke="#111" stroke-width="0.6"/>
<line x1="162.56" y1="511.00" x2="162.56" y2="512.89" stroke="#111" stroke-width="0.7"/>
<line x1="161.59" y1="511.00" x2="163.53" y2="511.00" stroke="#111" stroke-width="0.7"/>
<rect x="160.36" y="512.89" width="4.40" height="6.41" fill="url(#pchk)" stroke="#111" stroke-width="0.9"/>
<line x1="162.56" y1="519.30" x2="162.56" y2="520.60" stroke="#111" stroke-width="0.6"/>
<line x1="168.64" y1="508.93" x2="168.64" y2="511.29" stroke="#111" stroke-width="0.7"/>
<line x1="167.67" y1="508.93" x2="169.61" y2="508.93" stroke="#111" stroke-width="0.7"/>
<rect x="166.44" y="511.29" width="4.40" height="8.01" fill="url(#psaha)" stroke="#111" stroke-width="0.9"/>
<line x1="168.64" y1="519.30" x2="168.64" y2="520.60" stroke="#111" stroke-width="0.6"/>
<line x1="174.72" y1="508.93" x2="174.72" y2="511.29" stroke="#111" stroke-width="0.7"/>
<line x1="173.75" y1="508.93" x2="175.69" y2="508.93" stroke="#111" stroke-width="0.7"/>
<rect x="172.52" y="511.29" width="4.40" height="8.01" fill="url(#psaha)" stroke="#111" stroke-width="0.9"/>
<line x1="174.72" y1="519.30" x2="174.72" y2="520.60" stroke="#111" stroke-width="0.6"/>
<line x1="180.80" y1="507.51" x2="180.80" y2="509.87" stroke="#111" stroke-width="0.7"/>
<line x1="179.83" y1="507.51" x2="181.77" y2="507.51" stroke="#111" stroke-width="0.7"/>
<rect x="178.60" y="509.87" width="4.40" height="9.43" fill="url(#psaha)" stroke="#111" stroke-width="0.9"/>
<line x1="180.80" y1="519.30" x2="180.80" y2="520.60" stroke="#111" stroke-width="0.6"/>
<line x1="186.88" y1="508.93" x2="186.88" y2="510.06" stroke="#111" stroke-width="0.7"/>
<line x1="185.91" y1="508.93" x2="187.85" y2="508.93" stroke="#111" stroke-width="0.7"/>
<rect x="184.68" y="510.06" width="4.40" height="9.24" fill="url(#pcq)" stroke="#111" stroke-width="0.9"/>
<line x1="186.88" y1="519.30" x2="186.88" y2="520.60" stroke="#111" stroke-width="0.6"/>
<line x1="192.96" y1="508.46" x2="192.96" y2="511.29" stroke="#111" stroke-width="0.7"/>
<line x1="191.99" y1="508.46" x2="193.93" y2="508.46" stroke="#111" stroke-width="0.7"/>
<rect x="190.76" y="511.29" width="4.40" height="8.01" fill="url(#pchk)" stroke="#111" stroke-width="0.9"/>
<line x1="192.96" y1="519.30" x2="192.96" y2="520.60" stroke="#111" stroke-width="0.6"/>
<line x1="199.04" y1="492.62" x2="199.04" y2="494.69" stroke="#111" stroke-width="0.7"/>
<line x1="198.07" y1="492.62" x2="200.01" y2="492.62" stroke="#111" stroke-width="0.7"/>
<rect x="196.84" y="494.69" width="4.40" height="24.61" fill="url(#psaha)" stroke="#111" stroke-width="0.9"/>
<line x1="199.04" y1="519.30" x2="199.04" y2="520.60" stroke="#111" stroke-width="0.6"/>
<line x1="205.12" y1="481.49" x2="205.12" y2="484.51" stroke="#111" stroke-width="0.7"/>
<line x1="204.15" y1="481.49" x2="206.09" y2="481.49" stroke="#111" stroke-width="0.7"/>
<rect x="202.92" y="484.51" width="4.40" height="34.79" fill="url(#psaha)" stroke="#111" stroke-width="0.9"/>
<line x1="205.12" y1="519.30" x2="205.12" y2="520.60" stroke="#111" stroke-width="0.6"/>
<line x1="211.20" y1="488.28" x2="211.20" y2="490.17" stroke="#111" stroke-width="0.7"/>
<line x1="210.23" y1="488.28" x2="212.17" y2="488.28" stroke="#111" stroke-width="0.7"/>
<rect x="209.00" y="490.17" width="4.40" height="29.13" fill="url(#psaha)" stroke="#111" stroke-width="0.9"/>
<line x1="211.20" y1="519.30" x2="211.20" y2="520.60" stroke="#111" stroke-width="0.6"/>
<line x1="217.28" y1="502.99" x2="217.28" y2="503.74" stroke="#111" stroke-width="0.7"/>
<line x1="216.31" y1="502.99" x2="218.25" y2="502.99" stroke="#111" stroke-width="0.7"/>
<rect x="215.08" y="503.74" width="4.40" height="15.56" fill="url(#pcq)" stroke="#111" stroke-width="0.9"/>
<line x1="217.28" y1="519.30" x2="217.28" y2="520.60" stroke="#111" stroke-width="0.6"/>
<line x1="223.36" y1="499.03" x2="223.36" y2="507.04" stroke="#111" stroke-width="0.7"/>
<line x1="222.39" y1="499.03" x2="224.33" y2="499.03" stroke="#111" stroke-width="0.7"/>
<rect x="221.16" y="507.04" width="4.40" height="12.26" fill="url(#pchk)" stroke="#111" stroke-width="0.9"/>
<line x1="223.36" y1="519.30" x2="223.36" y2="520.60" stroke="#111" stroke-width="0.6"/>
<line x1="229.44" y1="486.21" x2="229.44" y2="490.45" stroke="#111" stroke-width="0.7"/>
<line x1="228.47" y1="486.21" x2="230.41" y2="486.21" stroke="#111" stroke-width="0.7"/>
<rect x="227.24" y="490.45" width="4.40" height="28.85" fill="url(#psaha)" stroke="#111" stroke-width="0.9"/>
<line x1="229.44" y1="519.30" x2="229.44" y2="520.60" stroke="#111" stroke-width="0.6"/>
<line x1="235.52" y1="460.56" x2="235.52" y2="465.27" stroke="#111" stroke-width="0.7"/>
<line x1="234.55" y1="460.56" x2="236.49" y2="460.56" stroke="#111" stroke-width="0.7"/>
<rect x="233.32" y="465.27" width="4.40" height="54.03" fill="url(#psaha)" stroke="#111" stroke-width="0.9"/>
<line x1="235.52" y1="519.30" x2="235.52" y2="520.60" stroke="#111" stroke-width="0.6"/>
<circle cx="235.52" cy="456.70" r="1.4" fill="#111"/>
<line x1="241.60" y1="469.23" x2="241.60" y2="473.48" stroke="#111" stroke-width="0.7"/>
<line x1="240.63" y1="469.23" x2="242.57" y2="469.23" stroke="#111" stroke-width="0.7"/>
<rect x="239.40" y="473.48" width="4.40" height="45.82" fill="url(#psaha)" stroke="#111" stroke-width="0.9"/>
<line x1="241.60" y1="519.30" x2="241.60" y2="520.60" stroke="#111" stroke-width="0.6"/>
<circle cx="241.60" cy="464.60" r="1.4" fill="#111"/>
<text x="151.20" y="526.90" font-size="4.7" font-weight="bold" text-anchor="end" fill="#222" transform="rotate(-45 151.20 526.90)" stroke="#222" stroke-width="0.12">Control</text>
<text x="157.28" y="526.90" font-size="4.7" font-weight="bold" text-anchor="end" fill="#222" transform="rotate(-45 157.28 526.90)" stroke="#222" stroke-width="0.12">CQ</text>
<text x="163.36" y="526.90" font-size="4.7" font-weight="bold" text-anchor="end" fill="#222" transform="rotate(-45 163.36 526.90)" stroke="#222" stroke-width="0.12">3-MA</text>
<text x="169.44" y="526.90" font-size="4.7" font-weight="bold" text-anchor="end" fill="#222" transform="rotate(-45 169.44 526.90)" stroke="#222" stroke-width="0.12">SAHA</text>
<text x="175.52" y="526.90" font-size="4.7" font-weight="bold" text-anchor="end" fill="#222" transform="rotate(-45 175.52 526.90)" stroke="#222" stroke-width="0.12">CQ + SAHA</text>
<text x="181.60" y="526.90" font-size="4.7" font-weight="bold" text-anchor="end" fill="#222" transform="rotate(-45 181.60 526.90)" stroke="#222" stroke-width="0.12">3-MA + SAHA</text>
<text x="187.68" y="526.90" font-size="4.7" font-weight="bold" text-anchor="end" fill="#222" transform="rotate(-45 187.68 526.90)" stroke="#222" stroke-width="0.12">CQ</text>
<text x="193.76" y="526.90" font-size="4.7" font-weight="bold" text-anchor="end" fill="#222" transform="rotate(-45 193.76 526.90)" stroke="#222" stroke-width="0.12">3-MA</text>
<text x="199.84" y="526.90" font-size="4.7" font-weight="bold" text-anchor="end" fill="#222" transform="rotate(-45 199.84 526.90)" stroke="#222" stroke-width="0.12">SAHA</text>
<text x="205.92" y="526.90" font-size="4.7" font-weight="bold" text-anchor="end" fill="#222" transform="rotate(-45 205.92 526.90)" stroke="#222" stroke-width="0.12">CQ + SAHA</text>
<text x="212.00" y="526.90" font-size="4.7" font-weight="bold" text-anchor="end" fill="#222" transform="rotate(-45 212.00 526.90)" stroke="#222" stroke-width="0.12">3-MA + SAHA</text>
<text x="218.08" y="526.90" font-size="4.7" font-weight="bold" text-anchor="end" fill="#222" transform="rotate(-45 218.08 526.90)" stroke="#222" stroke-width="0.12">CQ</text>
<text x="224.16" y="526.90" font-size="4.7" font-weight="bold" text-anchor="end" fill="#222" transform="rotate(-45 224.16 526.90)" stroke="#222" stroke-width="0.12">3-MA</text>
<text x="230.24" y="526.90" font-size="4.7" font-weight="bold" text-anchor="end" fill="#222" transform="rotate(-45 230.24 526.90)" stroke="#222" stroke-width="0.12">SAHA</text>
<text x="236.32" y="526.90" font-size="4.7" font-weight="bold" text-anchor="end" fill="#222" transform="rotate(-45 236.32 526.90)" stroke="#222" stroke-width="0.12">CQ + SAHA</text>
<text x="242.40" y="526.90" font-size="4.7" font-weight="bold" text-anchor="end" fill="#222" transform="rotate(-45 242.40 526.90)" stroke="#222" stroke-width="0.12">3-MA + SAHA</text>
<text x="196.25" y="449.60" font-size="8" font-weight="bold" text-anchor="middle" fill="#111" stroke="#111" stroke-width="0.26">LAMA 84</text>
<text x="131.50" y="482.00" font-size="5.9" font-weight="normal" text-anchor="middle" fill="#111" transform="rotate(-90 131.50 482.00)" stroke="#111" stroke-width="0.22">% Mitochondrial Depolarization</text>
<line x1="149.50" y1="554.25" x2="174.50" y2="554.25" stroke="#111" stroke-width="1.4"/>
<text x="162.00" y="563.00" font-size="6.2" font-weight="bold" text-anchor="middle" fill="#111" stroke="#111" stroke-width="0.26">6h</text>
<line x1="183.00" y1="554.25" x2="208.00" y2="554.25" stroke="#111" stroke-width="1.4"/>
<text x="195.50" y="563.00" font-size="6.2" font-weight="bold" text-anchor="middle" fill="#111" stroke="#111" stroke-width="0.26">12h</text>
<line x1="216.25" y1="554.25" x2="241.25" y2="554.25" stroke="#111" stroke-width="1.4"/>
<text x="228.75" y="563.00" font-size="6.2" font-weight="bold" text-anchor="middle" fill="#111" stroke="#111" stroke-width="0.26">24h</text>
<line x1="296.60" y1="309.40" x2="296.60" y2="372.60" stroke="#111" stroke-width="1.1"/>
<line x1="296.20" y1="372.10" x2="388.00" y2="372.10" stroke="#111" stroke-width="1.1"/>
<line x1="294.60" y1="372.10" x2="296.60" y2="372.10" stroke="#111" stroke-width="0.8"/>
<text x="294.20" y="373.61" font-size="4.2" font-weight="normal" text-anchor="end" fill="#111" stroke="#111" stroke-width="0.3">0</text>
<line x1="294.60" y1="359.62" x2="296.60" y2="359.62" stroke="#111" stroke-width="0.8"/>
<text x="294.20" y="361.13" font-size="4.2" font-weight="normal" text-anchor="end" fill="#111" stroke="#111" stroke-width="0.3">20</text>
<line x1="294.60" y1="347.14" x2="296.60" y2="347.14" stroke="#111" stroke-width="0.8"/>
<text x="294.20" y="348.65" font-size="4.2" font-weight="normal" text-anchor="end" fill="#111" stroke="#111" stroke-width="0.3">40</text>
<line x1="294.60" y1="334.66" x2="296.60" y2="334.66" stroke="#111" stroke-width="0.8"/>
<text x="294.20" y="336.17" font-size="4.2" font-weight="normal" text-anchor="end" fill="#111" stroke="#111" stroke-width="0.3">60</text>
<line x1="294.60" y1="322.18" x2="296.60" y2="322.18" stroke="#111" stroke-width="0.8"/>
<text x="294.20" y="323.69" font-size="4.2" font-weight="normal" text-anchor="end" fill="#111" stroke="#111" stroke-width="0.3">80</text>
<line x1="294.60" y1="309.70" x2="296.60" y2="309.70" stroke="#111" stroke-width="0.8"/>
<text x="294.20" y="311.21" font-size="4.2" font-weight="normal" text-anchor="end" fill="#111" stroke="#111" stroke-width="0.3">100</text>
<line x1="300.60" y1="371.66" x2="300.60" y2="371.79" stroke="#111" stroke-width="0.7"/>
<line x1="299.37" y1="371.66" x2="301.83" y2="371.66" stroke="#111" stroke-width="0.7"/>
<rect x="297.80" y="371.79" width="5.60" height="0.31" fill="url(#pctrl)" stroke="#111" stroke-width="0.9"/>
<line x1="300.60" y1="372.10" x2="300.60" y2="373.40" stroke="#111" stroke-width="0.6"/>
<line x1="308.90" y1="369.29" x2="308.90" y2="369.60" stroke="#111" stroke-width="0.7"/>
<line x1="307.67" y1="369.29" x2="310.13" y2="369.29" stroke="#111" stroke-width="0.7"/>
<rect x="306.10" y="369.60" width="5.60" height="2.50" fill="url(#pcq2)" stroke="#111" stroke-width="0.9"/>
<line x1="308.90" y1="372.10" x2="308.90" y2="373.40" stroke="#111" stroke-width="0.6"/>
<line x1="317.20" y1="369.54" x2="317.20" y2="369.73" stroke="#111" stroke-width="0.7"/>
<line x1="315.97" y1="369.54" x2="318.43" y2="369.54" stroke="#111" stroke-width="0.7"/>
<rect x="314.40" y="369.73" width="5.60" height="2.37" fill="url(#pchk)" stroke="#111" stroke-width="0.9"/>
<line x1="317.20" y1="372.10" x2="317.20" y2="373.40" stroke="#111" stroke-width="0.6"/>
<line x1="325.50" y1="368.67" x2="325.50" y2="368.98" stroke="#111" stroke-width="0.7"/>
<line x1="324.27" y1="368.67" x2="326.73" y2="368.67" stroke="#111" stroke-width="0.7"/>
<rect x="322.70" y="368.98" width="5.60" height="3.12" fill="url(#psaha)" stroke="#111" stroke-width="0.9"/>
<line x1="325.50" y1="372.10" x2="325.50" y2="373.40" stroke="#111" stroke-width="0.6"/>
<line x1="333.80" y1="349.01" x2="333.80" y2="352.13" stroke="#111" stroke-width="0.7"/>
<line x1="332.57" y1="349.01" x2="335.03" y2="349.01" stroke="#111" stroke-width="0.7"/>
<rect x="331.00" y="352.13" width="5.60" height="19.97" fill="url(#psaha)" stroke="#111" stroke-width="0.9"/>
<line x1="333.80" y1="372.10" x2="333.80" y2="373.40" stroke="#111" stroke-width="0.6"/>
<line x1="342.10" y1="362.99" x2="342.10" y2="363.61" stroke="#111" stroke-width="0.7"/>
<line x1="340.87" y1="362.99" x2="343.33" y2="362.99" stroke="#111" stroke-width="0.7"/>
<rect x="339.30" y="363.61" width="5.60" height="8.49" fill="url(#psaha)" stroke="#111" stroke-width="0.9"/>
<line x1="342.10" y1="372.10" x2="342.10" y2="373.40" stroke="#111" stroke-width="0.6"/>
<line x1="350.40" y1="364.92" x2="350.40" y2="366.80" stroke="#111" stroke-width="0.7"/>
<line x1="349.17" y1="364.92" x2="351.63" y2="364.92" stroke="#111" stroke-width="0.7"/>
<rect x="347.60" y="366.80" width="5.60" height="5.30" fill="url(#pcq2)" stroke="#111" stroke-width="0.9"/>
<line x1="350.40" y1="372.10" x2="350.40" y2="373.40" stroke="#111" stroke-width="0.6"/>
<line x1="358.70" y1="352.13" x2="358.70" y2="355.25" stroke="#111" stroke-width="0.7"/>
<line x1="357.47" y1="352.13" x2="359.93" y2="352.13" stroke="#111" stroke-width="0.7"/>
<rect x="355.90" y="355.25" width="5.60" height="16.85" fill="url(#pchk)" stroke="#111" stroke-width="0.9"/>
<line x1="358.70" y1="372.10" x2="358.70" y2="373.40" stroke="#111" stroke-width="0.6"/>
<line x1="367.00" y1="356.50" x2="367.00" y2="359.00" stroke="#111" stroke-width="0.7"/>
<line x1="365.77" y1="356.50" x2="368.23" y2="356.50" stroke="#111" stroke-width="0.7"/>
<rect x="364.20" y="359.00" width="5.60" height="13.10" fill="url(#psaha)" stroke="#111" stroke-width="0.9"/>
<line x1="367.00" y1="372.10" x2="367.00" y2="373.40" stroke="#111" stroke-width="0.6"/>
<line x1="375.30" y1="318.44" x2="375.30" y2="319.06" stroke="#111" stroke-width="0.7"/>
<line x1="374.07" y1="318.44" x2="376.53" y2="318.44" stroke="#111" stroke-width="0.7"/>
<rect x="372.50" y="319.06" width="5.60" height="53.04" fill="url(#psaha)" stroke="#111" stroke-width="0.9"/>
<line x1="375.30" y1="372.10" x2="375.30" y2="373.40" stroke="#111" stroke-width="0.6"/>
<circle cx="375.30" cy="315.50" r="1.35" fill="#111"/>
<line x1="383.60" y1="334.04" x2="383.60" y2="334.66" stroke="#111" stroke-width="0.7"/>
<line x1="382.37" y1="334.04" x2="384.83" y2="334.04" stroke="#111" stroke-width="0.7"/>
<rect x="380.80" y="334.66" width="5.60" height="37.44" fill="url(#psaha)" stroke="#111" stroke-width="0.9"/>
<line x1="383.60" y1="372.10" x2="383.60" y2="373.40" stroke="#111" stroke-width="0.6"/>
<circle cx="383.60" cy="330.50" r="1.35" fill="#111"/>
<text x="301.80" y="378.50" font-size="4.5" font-weight="bold" text-anchor="end" fill="#222" transform="rotate(-45 301.80 378.50)" stroke="#222" stroke-width="0.26">Control</text>
<text x="310.10" y="378.50" font-size="4.5" font-weight="bold" text-anchor="end" fill="#222" transform="rotate(-45 310.10 378.50)" stroke="#222" stroke-width="0.26">CQ</text>
<text x="318.40" y="378.50" font-size="4.5" font-weight="bold" text-anchor="end" fill="#222" transform="rotate(-45 318.40 378.50)" stroke="#222" stroke-width="0.26">3-MA</text>
<text x="326.70" y="378.50" font-size="4.5" font-weight="bold" text-anchor="end" fill="#222" transform="rotate(-45 326.70 378.50)" stroke="#222" stroke-width="0.26">SAHA</text>
<text x="335.00" y="378.50" font-size="4.5" font-weight="bold" text-anchor="end" fill="#222" transform="rotate(-45 335.00 378.50)" stroke="#222" stroke-width="0.26">CQ + SAHA</text>
<text x="343.30" y="378.50" font-size="4.5" font-weight="bold" text-anchor="end" fill="#222" transform="rotate(-45 343.30 378.50)" stroke="#222" stroke-width="0.26">3-MA + SAHA</text>
<text x="351.60" y="378.50" font-size="4.5" font-weight="bold" text-anchor="end" fill="#222" transform="rotate(-45 351.60 378.50)" stroke="#222" stroke-width="0.26">CQ</text>
<text x="359.90" y="378.50" font-size="4.5" font-weight="bold" text-anchor="end" fill="#222" transform="rotate(-45 359.90 378.50)" stroke="#222" stroke-width="0.26">3-MA</text>
<text x="368.20" y="378.50" font-size="4.5" font-weight="bold" text-anchor="end" fill="#222" transform="rotate(-45 368.20 378.50)" stroke="#222" stroke-width="0.26">SAHA</text>
<text x="376.50" y="378.50" font-size="4.5" font-weight="bold" text-anchor="end" fill="#222" transform="rotate(-45 376.50 378.50)" stroke="#222" stroke-width="0.26">CQ + SAHA</text>
<text x="384.80" y="378.50" font-size="4.5" font-weight="bold" text-anchor="end" fill="#222" transform="rotate(-45 384.80 378.50)" stroke="#222" stroke-width="0.26">3-MA + SAHA</text>
<text x="340.70" y="303.40" font-size="8" font-weight="bold" text-anchor="middle" fill="#111" stroke="#111" stroke-width="0.26">Ba/F3 p210</text>
<text x="283.40" y="341.00" font-size="6.7" font-weight="bold" text-anchor="middle" fill="#111" transform="rotate(-90 283.40 341.00)" stroke="#111" stroke-width="0.26">% Active Caspase-3</text>
<line x1="300.40" y1="405.70" x2="335.00" y2="405.70" stroke="#111" stroke-width="1.3"/>
<text x="317.70" y="414.00" font-size="6.6" font-weight="bold" text-anchor="middle" fill="#111" stroke="#111" stroke-width="0.26">24h</text>
<line x1="349.80" y1="405.70" x2="384.40" y2="405.70" stroke="#111" stroke-width="1.3"/>
<text x="367.10" y="414.00" font-size="6.6" font-weight="bold" text-anchor="middle" fill="#111" stroke="#111" stroke-width="0.26">48h</text>
<line x1="425.20" y1="309.40" x2="425.20" y2="373.50" stroke="#111" stroke-width="1.1"/>
<line x1="424.80" y1="373.00" x2="517.00" y2="373.00" stroke="#111" stroke-width="1.1"/>
<line x1="423.20" y1="373.00" x2="425.20" y2="373.00" stroke="#111" stroke-width="0.8"/>
<text x="422.80" y="374.51" font-size="4.2" font-weight="normal" text-anchor="end" fill="#111" stroke="#111" stroke-width="0.3">0</text>
<line x1="423.20" y1="360.34" x2="425.20" y2="360.34" stroke="#111" stroke-width="0.8"/>
<text x="422.80" y="361.85" font-size="4.2" font-weight="normal" text-anchor="end" fill="#111" stroke="#111" stroke-width="0.3">20</text>
<line x1="423.20" y1="347.68" x2="425.20" y2="347.68" stroke="#111" stroke-width="0.8"/>
<text x="422.80" y="349.19" font-size="4.2" font-weight="normal" text-anchor="end" fill="#111" stroke="#111" stroke-width="0.3">40</text>
<line x1="423.20" y1="335.02" x2="425.20" y2="335.02" stroke="#111" stroke-width="0.8"/>
<text x="422.80" y="336.53" font-size="4.2" font-weight="normal" text-anchor="end" fill="#111" stroke="#111" stroke-width="0.3">60</text>
<line x1="423.20" y1="322.36" x2="425.20" y2="322.36" stroke="#111" stroke-width="0.8"/>
<text x="422.80" y="323.87" font-size="4.2" font-weight="normal" text-anchor="end" fill="#111" stroke="#111" stroke-width="0.3">80</text>
<line x1="423.20" y1="309.70" x2="425.20" y2="309.70" stroke="#111" stroke-width="0.8"/>
<text x="422.80" y="311.21" font-size="4.2" font-weight="normal" text-anchor="end" fill="#111" stroke="#111" stroke-width="0.3">100</text>
<line x1="429.70" y1="372.56" x2="429.70" y2="372.68" stroke="#111" stroke-width="0.7"/>
<line x1="428.47" y1="372.56" x2="430.93" y2="372.56" stroke="#111" stroke-width="0.7"/>
<rect x="426.90" y="372.68" width="5.60" height="0.32" fill="url(#pctrl)" stroke="#111" stroke-width="0.9"/>
<line x1="429.70" y1="373.00" x2="429.70" y2="374.30" stroke="#111" stroke-width="0.6"/>
<line x1="438.00" y1="370.15" x2="438.00" y2="370.47" stroke="#111" stroke-width="0.7"/>
<line x1="436.77" y1="370.15" x2="439.23" y2="370.15" stroke="#111" stroke-width="0.7"/>
<rect x="435.20" y="370.47" width="5.60" height="2.53" fill="url(#pcq2)" stroke="#111" stroke-width="0.9"/>
<line x1="438.00" y1="373.00" x2="438.00" y2="374.30" stroke="#111" stroke-width="0.6"/>
<line x1="446.30" y1="370.40" x2="446.30" y2="370.59" stroke="#111" stroke-width="0.7"/>
<line x1="445.07" y1="370.40" x2="447.53" y2="370.40" stroke="#111" stroke-width="0.7"/>
<rect x="443.50" y="370.59" width="5.60" height="2.41" fill="url(#pchk)" stroke="#111" stroke-width="0.9"/>
<line x1="446.30" y1="373.00" x2="446.30" y2="374.30" stroke="#111" stroke-width="0.6"/>
<line x1="454.60" y1="369.52" x2="454.60" y2="369.83" stroke="#111" stroke-width="0.7"/>
<line x1="453.37" y1="369.52" x2="455.83" y2="369.52" stroke="#111" stroke-width="0.7"/>
<rect x="451.80" y="369.83" width="5.60" height="3.17" fill="url(#psaha)" stroke="#111" stroke-width="0.9"/>
<line x1="454.60" y1="373.00" x2="454.60" y2="374.30" stroke="#111" stroke-width="0.6"/>
<line x1="462.90" y1="349.58" x2="462.90" y2="352.74" stroke="#111" stroke-width="0.7"/>
<line x1="461.67" y1="349.58" x2="464.13" y2="349.58" stroke="#111" stroke-width="0.7"/>
<rect x="460.10" y="352.74" width="5.60" height="20.26" fill="url(#psaha)" stroke="#111" stroke-width="0.9"/>
<line x1="462.90" y1="373.00" x2="462.90" y2="374.30" stroke="#111" stroke-width="0.6"/>
<line x1="471.20" y1="363.76" x2="471.20" y2="364.39" stroke="#111" stroke-width="0.7"/>
<line x1="469.97" y1="363.76" x2="472.43" y2="363.76" stroke="#111" stroke-width="0.7"/>
<rect x="468.40" y="364.39" width="5.60" height="8.61" fill="url(#psaha)" stroke="#111" stroke-width="0.9"/>
<line x1="471.20" y1="373.00" x2="471.20" y2="374.30" stroke="#111" stroke-width="0.6"/>
<line x1="479.50" y1="365.72" x2="479.50" y2="367.62" stroke="#111" stroke-width="0.7"/>
<line x1="478.27" y1="365.72" x2="480.73" y2="365.72" stroke="#111" stroke-width="0.7"/>
<rect x="476.70" y="367.62" width="5.60" height="5.38" fill="url(#pcq2)" stroke="#111" stroke-width="0.9"/>
<line x1="479.50" y1="373.00" x2="479.50" y2="374.30" stroke="#111" stroke-width="0.6"/>
<line x1="487.80" y1="352.74" x2="487.80" y2="355.91" stroke="#111" stroke-width="0.7"/>
<line x1="486.57" y1="352.74" x2="489.03" y2="352.74" stroke="#111" stroke-width="0.7"/>
<rect x="485.00" y="355.91" width="5.60" height="17.09" fill="url(#pchk)" stroke="#111" stroke-width="0.9"/>
<line x1="487.80" y1="373.00" x2="487.80" y2="374.30" stroke="#111" stroke-width="0.6"/>
<line x1="496.10" y1="357.18" x2="496.10" y2="359.71" stroke="#111" stroke-width="0.7"/>
<line x1="494.87" y1="357.18" x2="497.33" y2="357.18" stroke="#111" stroke-width="0.7"/>
<rect x="493.30" y="359.71" width="5.60" height="13.29" fill="url(#psaha)" stroke="#111" stroke-width="0.9"/>
<line x1="496.10" y1="373.00" x2="496.10" y2="374.30" stroke="#111" stroke-width="0.6"/>
<line x1="504.40" y1="318.56" x2="504.40" y2="319.19" stroke="#111" stroke-width="0.7"/>
<line x1="503.17" y1="318.56" x2="505.63" y2="318.56" stroke="#111" stroke-width="0.7"/>
<rect x="501.60" y="319.19" width="5.60" height="53.81" fill="url(#psaha)" stroke="#111" stroke-width="0.9"/>
<line x1="504.40" y1="373.00" x2="504.40" y2="374.30" stroke="#111" stroke-width="0.6"/>
<circle cx="504.40" cy="315.50" r="1.35" fill="#111"/>
<line x1="512.70" y1="334.39" x2="512.70" y2="335.02" stroke="#111" stroke-width="0.7"/>
<line x1="511.47" y1="334.39" x2="513.93" y2="334.39" stroke="#111" stroke-width="0.7"/>
<rect x="509.90" y="335.02" width="5.60" height="37.98" fill="url(#psaha)" stroke="#111" stroke-width="0.9"/>
<line x1="512.70" y1="373.00" x2="512.70" y2="374.30" stroke="#111" stroke-width="0.6"/>
<circle cx="512.70" cy="331.00" r="1.35" fill="#111"/>
<text x="430.90" y="379.40" font-size="4.5" font-weight="bold" text-anchor="end" fill="#222" transform="rotate(-45 430.90 379.40)" stroke="#222" stroke-width="0.26">Control</text>
<text x="439.20" y="379.40" font-size="4.5" font-weight="bold" text-anchor="end" fill="#222" transform="rotate(-45 439.20 379.40)" stroke="#222" stroke-width="0.26">CQ</text>
<text x="447.50" y="379.40" font-size="4.5" font-weight="bold" text-anchor="end" fill="#222" transform="rotate(-45 447.50 379.40)" stroke="#222" stroke-width="0.26">3-MA</text>
<text x="455.80" y="379.40" font-size="4.5" font-weight="bold" text-anchor="end" fill="#222" transform="rotate(-45 455.80 379.40)" stroke="#222" stroke-width="0.26">SAHA</text>
<text x="464.10" y="379.40" font-size="4.5" font-weight="bold" text-anchor="end" fill="#222" transform="rotate(-45 464.10 379.40)" stroke="#222" stroke-width="0.26">CQ + SAHA</text>
<text x="472.40" y="379.40" font-size="4.5" font-weight="bold" text-anchor="end" fill="#222" transform="rotate(-45 472.40 379.40)" stroke="#222" stroke-width="0.26">3-MA + SAHA</text>
<text x="480.70" y="379.40" font-size="4.5" font-weight="bold" text-anchor="end" fill="#222" transform="rotate(-45 480.70 379.40)" stroke="#222" stroke-width="0.26">CQ</text>
<text x="489.00" y="379.40" font-size="4.5" font-weight="bold" text-anchor="end" fill="#222" transform="rotate(-45 489.00 379.40)" stroke="#222" stroke-width="0.26">3-MA</text>
<text x="497.30" y="379.40" font-size="4.5" font-weight="bold" text-anchor="end" fill="#222" transform="rotate(-45 497.30 379.40)" stroke="#222" stroke-width="0.26">SAHA</text>
<text x="505.60" y="379.40" font-size="4.5" font-weight="bold" text-anchor="end" fill="#222" transform="rotate(-45 505.60 379.40)" stroke="#222" stroke-width="0.26">CQ + SAHA</text>
<text x="513.90" y="379.40" font-size="4.5" font-weight="bold" text-anchor="end" fill="#222" transform="rotate(-45 513.90 379.40)" stroke="#222" stroke-width="0.26">3-MA + SAHA</text>
<text x="470.70" y="302.80" font-size="8" font-weight="bold" text-anchor="middle" fill="#111" stroke="#111" stroke-width="0.26">Ba/F3 T315I</text>
<text x="412.10" y="341.00" font-size="6.7" font-weight="bold" text-anchor="middle" fill="#111" transform="rotate(-90 412.10 341.00)" stroke="#111" stroke-width="0.26">% Active Caspase-3</text>
<line x1="431.20" y1="405.70" x2="465.20" y2="405.70" stroke="#111" stroke-width="1.3"/>
<text x="448.20" y="413.80" font-size="6.6" font-weight="bold" text-anchor="middle" fill="#111" stroke="#111" stroke-width="0.26">24h</text>
<line x1="480.60" y1="405.70" x2="514.20" y2="405.70" stroke="#111" stroke-width="1.3"/>
<text x="497.40" y="413.80" font-size="6.6" font-weight="bold" text-anchor="middle" fill="#111" stroke="#111" stroke-width="0.26">48h</text>
<line x1="299.80" y1="464.50" x2="299.80" y2="525.00" stroke="#111" stroke-width="1.1"/>
<line x1="299.40" y1="524.50" x2="389.00" y2="524.50" stroke="#111" stroke-width="1.1"/>
<line x1="297.80" y1="524.50" x2="299.80" y2="524.50" stroke="#111" stroke-width="0.8"/>
<text x="297.40" y="526.01" font-size="4.2" font-weight="normal" text-anchor="end" fill="#111" stroke="#111" stroke-width="0.3">0</text>
<line x1="297.80" y1="509.57" x2="299.80" y2="509.57" stroke="#111" stroke-width="0.8"/>
<text x="297.40" y="511.09" font-size="4.2" font-weight="normal" text-anchor="end" fill="#111" stroke="#111" stroke-width="0.3">20</text>
<line x1="297.80" y1="494.65" x2="299.80" y2="494.65" stroke="#111" stroke-width="0.8"/>
<text x="297.40" y="496.16" font-size="4.2" font-weight="normal" text-anchor="end" fill="#111" stroke="#111" stroke-width="0.3">40</text>
<line x1="297.80" y1="479.73" x2="299.80" y2="479.73" stroke="#111" stroke-width="0.8"/>
<text x="297.40" y="481.24" font-size="4.2" font-weight="normal" text-anchor="end" fill="#111" stroke="#111" stroke-width="0.3">60</text>
<line x1="297.80" y1="464.80" x2="299.80" y2="464.80" stroke="#111" stroke-width="0.8"/>
<text x="297.40" y="466.31" font-size="4.2" font-weight="normal" text-anchor="end" fill="#111" stroke="#111" stroke-width="0.3">80</text>
<line x1="303.00" y1="522.86" x2="303.00" y2="523.01" stroke="#111" stroke-width="0.7"/>
<line x1="301.77" y1="522.86" x2="304.23" y2="522.86" stroke="#111" stroke-width="0.7"/>
<rect x="300.20" y="523.01" width="5.60" height="1.49" fill="url(#pctrl)" stroke="#111" stroke-width="0.9"/>
<line x1="303.00" y1="524.50" x2="303.00" y2="525.80" stroke="#111" stroke-width="0.6"/>
<line x1="311.18" y1="521.89" x2="311.18" y2="522.26" stroke="#111" stroke-width="0.7"/>
<line x1="309.95" y1="521.89" x2="312.41" y2="521.89" stroke="#111" stroke-width="0.7"/>
<rect x="308.38" y="522.26" width="5.60" height="2.24" fill="url(#pcq2)" stroke="#111" stroke-width="0.9"/>
<line x1="311.18" y1="524.50" x2="311.18" y2="525.80" stroke="#111" stroke-width="0.6"/>
<line x1="319.36" y1="522.41" x2="319.36" y2="522.63" stroke="#111" stroke-width="0.7"/>
<line x1="318.13" y1="522.41" x2="320.59" y2="522.41" stroke="#111" stroke-width="0.7"/>
<rect x="316.56" y="522.63" width="5.60" height="1.87" fill="url(#pchk)" stroke="#111" stroke-width="0.9"/>
<line x1="319.36" y1="524.50" x2="319.36" y2="525.80" stroke="#111" stroke-width="0.6"/>
<line x1="327.54" y1="518.53" x2="327.54" y2="520.02" stroke="#111" stroke-width="0.7"/>
<line x1="326.31" y1="518.53" x2="328.77" y2="518.53" stroke="#111" stroke-width="0.7"/>
<rect x="324.74" y="520.02" width="5.60" height="4.48" fill="url(#psaha)" stroke="#111" stroke-width="0.9"/>
<line x1="327.54" y1="524.50" x2="327.54" y2="525.80" stroke="#111" stroke-width="0.6"/>
<line x1="335.72" y1="497.26" x2="335.72" y2="498.38" stroke="#111" stroke-width="0.7"/>
<line x1="334.49" y1="497.26" x2="336.95" y2="497.26" stroke="#111" stroke-width="0.7"/>
<rect x="332.92" y="498.38" width="5.60" height="26.12" fill="url(#psaha)" stroke="#111" stroke-width="0.9"/>
<line x1="335.72" y1="524.50" x2="335.72" y2="525.80" stroke="#111" stroke-width="0.6"/>
<line x1="343.90" y1="510.69" x2="343.90" y2="511.81" stroke="#111" stroke-width="0.7"/>
<line x1="342.67" y1="510.69" x2="345.13" y2="510.69" stroke="#111" stroke-width="0.7"/>
<rect x="341.10" y="511.81" width="5.60" height="12.69" fill="url(#psaha)" stroke="#111" stroke-width="0.9"/>
<line x1="343.90" y1="524.50" x2="343.90" y2="525.80" stroke="#111" stroke-width="0.6"/>
<line x1="352.08" y1="519.05" x2="352.08" y2="519.28" stroke="#111" stroke-width="0.7"/>
<line x1="350.85" y1="519.05" x2="353.31" y2="519.05" stroke="#111" stroke-width="0.7"/>
<rect x="349.28" y="519.28" width="5.60" height="5.22" fill="url(#pcq2)" stroke="#111" stroke-width="0.9"/>
<line x1="352.08" y1="524.50" x2="352.08" y2="525.80" stroke="#111" stroke-width="0.6"/>
<line x1="360.26" y1="517.04" x2="360.26" y2="518.16" stroke="#111" stroke-width="0.7"/>
<line x1="359.03" y1="517.04" x2="361.49" y2="517.04" stroke="#111" stroke-width="0.7"/>
<rect x="357.46" y="518.16" width="5.60" height="6.34" fill="url(#pchk)" stroke="#111" stroke-width="0.9"/>
<line x1="360.26" y1="524.50" x2="360.26" y2="525.80" stroke="#111" stroke-width="0.6"/>
<line x1="368.44" y1="513.31" x2="368.44" y2="516.29" stroke="#111" stroke-width="0.7"/>
<line x1="367.21" y1="513.31" x2="369.67" y2="513.31" stroke="#111" stroke-width="0.7"/>
<rect x="365.64" y="516.29" width="5.60" height="8.21" fill="url(#psaha)" stroke="#111" stroke-width="0.9"/>
<line x1="368.44" y1="524.50" x2="368.44" y2="525.80" stroke="#111" stroke-width="0.6"/>
<line x1="376.62" y1="477.49" x2="376.62" y2="481.22" stroke="#111" stroke-width="0.7"/>
<line x1="375.39" y1="477.49" x2="377.85" y2="477.49" stroke="#111" stroke-width="0.7"/>
<rect x="373.82" y="481.22" width="5.60" height="43.28" fill="url(#psaha)" stroke="#111" stroke-width="0.9"/>
<line x1="376.62" y1="524.50" x2="376.62" y2="525.80" stroke="#111" stroke-width="0.6"/>
<circle cx="376.62" cy="471.00" r="1.35" fill="#111"/>
<line x1="384.80" y1="487.93" x2="384.80" y2="488.68" stroke="#111" stroke-width="0.7"/>
<line x1="383.57" y1="487.93" x2="386.03" y2="487.93" stroke="#111" stroke-width="0.7"/>
<rect x="382.00" y="488.68" width="5.60" height="35.82" fill="url(#psaha)" stroke="#111" stroke-width="0.9"/>
<line x1="384.80" y1="524.50" x2="384.80" y2="525.80" stroke="#111" stroke-width="0.6"/>
<circle cx="384.80" cy="481.00" r="1.35" fill="#111"/>
<text x="304.20" y="530.90" font-size="4.5" font-weight="bold" text-anchor="end" fill="#222" transform="rotate(-45 304.20 530.90)" stroke="#222" stroke-width="0.26">Control</text>
<text x="312.38" y="530.90" font-size="4.5" font-weight="bold" text-anchor="end" fill="#222" transform="rotate(-45 312.38 530.90)" stroke="#222" stroke-width="0.26">CQ</text>
<text x="320.56" y="530.90" font-size="4.5" font-weight="bold" text-anchor="end" fill="#222" transform="rotate(-45 320.56 530.90)" stroke="#222" stroke-width="0.26">3-MA</text>
<text x="328.74" y="530.90" font-size="4.5" font-weight="bold" text-anchor="end" fill="#222" transform="rotate(-45 328.74 530.90)" stroke="#222" stroke-width="0.26">SAHA</text>
<text x="336.92" y="530.90" font-size="4.5" font-weight="bold" text-anchor="end" fill="#222" transform="rotate(-45 336.92 530.90)" stroke="#222" stroke-width="0.26">CQ + SAHA</text>
<text x="345.10" y="530.90" font-size="4.5" font-weight="bold" text-anchor="end" fill="#222" transform="rotate(-45 345.10 530.90)" stroke="#222" stroke-width="0.26">3-MA + SAHA</text>
<text x="353.28" y="530.90" font-size="4.5" font-weight="bold" text-anchor="end" fill="#222" transform="rotate(-45 353.28 530.90)" stroke="#222" stroke-width="0.26">CQ</text>
<text x="361.46" y="530.90" font-size="4.5" font-weight="bold" text-anchor="end" fill="#222" transform="rotate(-45 361.46 530.90)" stroke="#222" stroke-width="0.26">3-MA</text>
<text x="369.64" y="530.90" font-size="4.5" font-weight="bold" text-anchor="end" fill="#222" transform="rotate(-45 369.64 530.90)" stroke="#222" stroke-width="0.26">SAHA</text>
<text x="377.82" y="530.90" font-size="4.5" font-weight="bold" text-anchor="end" fill="#222" transform="rotate(-45 377.82 530.90)" stroke="#222" stroke-width="0.26">CQ + SAHA</text>
<text x="386.00" y="530.90" font-size="4.5" font-weight="bold" text-anchor="end" fill="#222" transform="rotate(-45 386.00 530.90)" stroke="#222" stroke-width="0.26">3-MA + SAHA</text>
<text x="344.60" y="457.20" font-size="8" font-weight="bold" text-anchor="middle" fill="#111" stroke="#111" stroke-width="0.26">K562</text>
<text x="287.80" y="494.50" font-size="6.6" font-weight="bold" text-anchor="middle" fill="#111" transform="rotate(-90 287.80 494.50)" stroke="#111" stroke-width="0.26">% Active Caspase-3</text>
<line x1="304.30" y1="554.30" x2="338.60" y2="554.30" stroke="#111" stroke-width="1.3"/>
<text x="321.45" y="562.30" font-size="6.6" font-weight="bold" text-anchor="middle" fill="#111" stroke="#111" stroke-width="0.26">24h</text>
<line x1="353.10" y1="554.30" x2="387.40" y2="554.30" stroke="#111" stroke-width="1.3"/>
<text x="370.25" y="562.30" font-size="6.6" font-weight="bold" text-anchor="middle" fill="#111" stroke="#111" stroke-width="0.26">48h</text>
<line x1="427.80" y1="463.10" x2="427.80" y2="524.10" stroke="#111" stroke-width="1.1"/>
<line x1="427.40" y1="523.60" x2="518.00" y2="523.60" stroke="#111" stroke-width="1.1"/>
<line x1="425.80" y1="523.60" x2="427.80" y2="523.60" stroke="#111" stroke-width="0.8"/>
<text x="425.40" y="525.11" font-size="4.2" font-weight="normal" text-anchor="end" fill="#111" stroke="#111" stroke-width="0.3">0</text>
<line x1="425.80" y1="508.55" x2="427.80" y2="508.55" stroke="#111" stroke-width="0.8"/>
<text x="425.40" y="510.06" font-size="4.2" font-weight="normal" text-anchor="end" fill="#111" stroke="#111" stroke-width="0.3">20</text>
<line x1="425.80" y1="493.50" x2="427.80" y2="493.50" stroke="#111" stroke-width="0.8"/>
<text x="425.40" y="495.01" font-size="4.2" font-weight="normal" text-anchor="end" fill="#111" stroke="#111" stroke-width="0.3">40</text>
<line x1="425.80" y1="478.45" x2="427.80" y2="478.45" stroke="#111" stroke-width="0.8"/>
<text x="425.40" y="479.96" font-size="4.2" font-weight="normal" text-anchor="end" fill="#111" stroke="#111" stroke-width="0.3">60</text>
<line x1="425.80" y1="463.40" x2="427.80" y2="463.40" stroke="#111" stroke-width="0.8"/>
<text x="425.40" y="464.91" font-size="4.2" font-weight="normal" text-anchor="end" fill="#111" stroke="#111" stroke-width="0.3">80</text>
<line x1="433.00" y1="522.32" x2="433.00" y2="522.47" stroke="#111" stroke-width="0.7"/>
<line x1="431.77" y1="522.32" x2="434.23" y2="522.32" stroke="#111" stroke-width="0.7"/>
<rect x="430.20" y="522.47" width="5.60" height="1.13" fill="url(#pctrl)" stroke="#111" stroke-width="0.9"/>
<line x1="433.00" y1="523.60" x2="433.00" y2="524.90" stroke="#111" stroke-width="0.6"/>
<line x1="441.10" y1="520.97" x2="441.10" y2="521.34" stroke="#111" stroke-width="0.7"/>
<line x1="439.87" y1="520.97" x2="442.33" y2="520.97" stroke="#111" stroke-width="0.7"/>
<rect x="438.30" y="521.34" width="5.60" height="2.26" fill="url(#pcq2)" stroke="#111" stroke-width="0.9"/>
<line x1="441.10" y1="523.60" x2="441.10" y2="524.90" stroke="#111" stroke-width="0.6"/>
<line x1="449.20" y1="520.97" x2="449.20" y2="521.34" stroke="#111" stroke-width="0.7"/>
<line x1="447.97" y1="520.97" x2="450.43" y2="520.97" stroke="#111" stroke-width="0.7"/>
<rect x="446.40" y="521.34" width="5.60" height="2.26" fill="url(#pchk)" stroke="#111" stroke-width="0.9"/>
<line x1="449.20" y1="523.60" x2="449.20" y2="524.90" stroke="#111" stroke-width="0.6"/>
<line x1="457.30" y1="505.92" x2="457.30" y2="506.29" stroke="#111" stroke-width="0.7"/>
<line x1="456.07" y1="505.92" x2="458.53" y2="505.92" stroke="#111" stroke-width="0.7"/>
<rect x="454.50" y="506.29" width="5.60" height="17.31" fill="url(#psaha)" stroke="#111" stroke-width="0.9"/>
<line x1="457.30" y1="523.60" x2="457.30" y2="524.90" stroke="#111" stroke-width="0.6"/>
<line x1="465.40" y1="480.33" x2="465.40" y2="480.71" stroke="#111" stroke-width="0.7"/>
<line x1="464.17" y1="480.33" x2="466.63" y2="480.33" stroke="#111" stroke-width="0.7"/>
<rect x="462.60" y="480.71" width="5.60" height="42.89" fill="url(#psaha)" stroke="#111" stroke-width="0.9"/>
<line x1="465.40" y1="523.60" x2="465.40" y2="524.90" stroke="#111" stroke-width="0.6"/>
<line x1="473.50" y1="480.71" x2="473.50" y2="482.21" stroke="#111" stroke-width="0.7"/>
<line x1="472.27" y1="480.71" x2="474.73" y2="480.71" stroke="#111" stroke-width="0.7"/>
<rect x="470.70" y="482.21" width="5.60" height="41.39" fill="url(#psaha)" stroke="#111" stroke-width="0.9"/>
<line x1="473.50" y1="523.60" x2="473.50" y2="524.90" stroke="#111" stroke-width="0.6"/>
<line x1="481.60" y1="519.84" x2="481.60" y2="520.21" stroke="#111" stroke-width="0.7"/>
<line x1="480.37" y1="519.84" x2="482.83" y2="519.84" stroke="#111" stroke-width="0.7"/>
<rect x="478.80" y="520.21" width="5.60" height="3.39" fill="url(#pcq2)" stroke="#111" stroke-width="0.9"/>
<line x1="481.60" y1="523.60" x2="481.60" y2="524.90" stroke="#111" stroke-width="0.6"/>
<line x1="489.70" y1="520.21" x2="489.70" y2="520.59" stroke="#111" stroke-width="0.7"/>
<line x1="488.47" y1="520.21" x2="490.93" y2="520.21" stroke="#111" stroke-width="0.7"/>
<rect x="486.90" y="520.59" width="5.60" height="3.01" fill="url(#pchk)" stroke="#111" stroke-width="0.9"/>
<line x1="489.70" y1="523.60" x2="489.70" y2="524.90" stroke="#111" stroke-width="0.6"/>
<line x1="497.80" y1="500.05" x2="497.80" y2="500.27" stroke="#111" stroke-width="0.7"/>
<line x1="496.57" y1="500.05" x2="499.03" y2="500.05" stroke="#111" stroke-width="0.7"/>
<rect x="495.00" y="500.27" width="5.60" height="23.33" fill="url(#psaha)" stroke="#111" stroke-width="0.9"/>
<line x1="497.80" y1="523.60" x2="497.80" y2="524.90" stroke="#111" stroke-width="0.6"/>
<line x1="505.90" y1="464.90" x2="505.90" y2="467.16" stroke="#111" stroke-width="0.7"/>
<line x1="504.67" y1="464.90" x2="507.13" y2="464.90" stroke="#111" stroke-width="0.7"/>
<rect x="503.10" y="467.16" width="5.60" height="56.44" fill="url(#psaha)" stroke="#111" stroke-width="0.9"/>
<line x1="505.90" y1="523.60" x2="505.90" y2="524.90" stroke="#111" stroke-width="0.6"/>
<circle cx="505.90" cy="461.00" r="1.35" fill="#111"/>
<line x1="514.00" y1="474.69" x2="514.00" y2="477.70" stroke="#111" stroke-width="0.7"/>
<line x1="512.77" y1="474.69" x2="515.23" y2="474.69" stroke="#111" stroke-width="0.7"/>
<rect x="511.20" y="477.70" width="5.60" height="45.90" fill="url(#psaha)" stroke="#111" stroke-width="0.9"/>
<line x1="514.00" y1="523.60" x2="514.00" y2="524.90" stroke="#111" stroke-width="0.6"/>
<circle cx="514.00" cy="471.00" r="1.35" fill="#111"/>
<text x="434.20" y="530.00" font-size="4.5" font-weight="bold" text-anchor="end" fill="#222" transform="rotate(-45 434.20 530.00)" stroke="#222" stroke-width="0.26">Control</text>
<text x="442.30" y="530.00" font-size="4.5" font-weight="bold" text-anchor="end" fill="#222" transform="rotate(-45 442.30 530.00)" stroke="#222" stroke-width="0.26">CQ</text>
<text x="450.40" y="530.00" font-size="4.5" font-weight="bold" text-anchor="end" fill="#222" transform="rotate(-45 450.40 530.00)" stroke="#222" stroke-width="0.26">3-MA</text>
<text x="458.50" y="530.00" font-size="4.5" font-weight="bold" text-anchor="end" fill="#222" transform="rotate(-45 458.50 530.00)" stroke="#222" stroke-width="0.26">SAHA</text>
<text x="466.60" y="530.00" font-size="4.5" font-weight="bold" text-anchor="end" fill="#222" transform="rotate(-45 466.60 530.00)" stroke="#222" stroke-width="0.26">CQ + SAHA</text>
<text x="474.70" y="530.00" font-size="4.5" font-weight="bold" text-anchor="end" fill="#222" transform="rotate(-45 474.70 530.00)" stroke="#222" stroke-width="0.26">3-MA + SAHA</text>
<text x="482.80" y="530.00" font-size="4.5" font-weight="bold" text-anchor="end" fill="#222" transform="rotate(-45 482.80 530.00)" stroke="#222" stroke-width="0.26">CQ</text>
<text x="490.90" y="530.00" font-size="4.5" font-weight="bold" text-anchor="end" fill="#222" transform="rotate(-45 490.90 530.00)" stroke="#222" stroke-width="0.26">3-MA</text>
<text x="499.00" y="530.00" font-size="4.5" font-weight="bold" text-anchor="end" fill="#222" transform="rotate(-45 499.00 530.00)" stroke="#222" stroke-width="0.26">SAHA</text>
<text x="507.10" y="530.00" font-size="4.5" font-weight="bold" text-anchor="end" fill="#222" transform="rotate(-45 507.10 530.00)" stroke="#222" stroke-width="0.26">CQ + SAHA</text>
<text x="515.20" y="530.00" font-size="4.5" font-weight="bold" text-anchor="end" fill="#222" transform="rotate(-45 515.20 530.00)" stroke="#222" stroke-width="0.26">3-MA + SAHA</text>
<text x="473.30" y="455.90" font-size="8" font-weight="bold" text-anchor="middle" fill="#111" stroke="#111" stroke-width="0.26">LAMA 84</text>
<text x="418.00" y="494.00" font-size="6.6" font-weight="bold" text-anchor="middle" fill="#111" transform="rotate(-90 418.00 494.00)" stroke="#111" stroke-width="0.26">% Active Caspase-3</text>
<line x1="433.00" y1="554.30" x2="467.00" y2="554.30" stroke="#111" stroke-width="1.3"/>
<text x="450.00" y="562.30" font-size="6.6" font-weight="bold" text-anchor="middle" fill="#111" stroke="#111" stroke-width="0.26">24h</text>
<line x1="482.00" y1="554.30" x2="516.00" y2="554.30" stroke="#111" stroke-width="1.3"/>
<text x="499.00" y="562.30" font-size="6.6" font-weight="bold" text-anchor="middle" fill="#111" stroke="#111" stroke-width="0.26">48h</text>
<line x1="23.60" y1="604.20" x2="23.60" y2="666.80" stroke="#111" stroke-width="1.1"/>
<line x1="23.20" y1="666.30" x2="115.00" y2="666.30" stroke="#111" stroke-width="1.1"/>
<line x1="21.60" y1="666.30" x2="23.60" y2="666.30" stroke="#111" stroke-width="0.8"/>
<text x="21.20" y="667.70" font-size="3.9" font-weight="normal" text-anchor="end" fill="#111" stroke="#111" stroke-width="0.15">0</text>
<line x1="21.60" y1="653.94" x2="23.60" y2="653.94" stroke="#111" stroke-width="0.8"/>
<text x="21.20" y="655.34" font-size="3.9" font-weight="normal" text-anchor="end" fill="#111" stroke="#111" stroke-width="0.15">20</text>
<line x1="21.60" y1="641.58" x2="23.60" y2="641.58" stroke="#111" stroke-width="0.8"/>
<text x="21.20" y="642.98" font-size="3.9" font-weight="normal" text-anchor="end" fill="#111" stroke="#111" stroke-width="0.15">40</text>
<line x1="21.60" y1="629.22" x2="23.60" y2="629.22" stroke="#111" stroke-width="0.8"/>
<text x="21.20" y="630.62" font-size="3.9" font-weight="normal" text-anchor="end" fill="#111" stroke="#111" stroke-width="0.15">60</text>
<line x1="21.60" y1="616.86" x2="23.60" y2="616.86" stroke="#111" stroke-width="0.8"/>
<text x="21.20" y="618.26" font-size="3.9" font-weight="normal" text-anchor="end" fill="#111" stroke="#111" stroke-width="0.15">80</text>
<line x1="21.60" y1="604.50" x2="23.60" y2="604.50" stroke="#111" stroke-width="0.8"/>
<text x="21.20" y="605.90" font-size="3.9" font-weight="normal" text-anchor="end" fill="#111" stroke="#111" stroke-width="0.15">100</text>
<rect x="25.50" y="604.50" width="10.60" height="61.80" fill="url(#pctrl)" stroke="#111" stroke-width="0.9"/>
<line x1="30.80" y1="666.30" x2="30.80" y2="667.60" stroke="#111" stroke-width="0.6"/>
<line x1="46.00" y1="622.11" x2="46.00" y2="623.04" stroke="#111" stroke-width="0.7"/>
<line x1="43.67" y1="622.11" x2="48.33" y2="622.11" stroke="#111" stroke-width="0.7"/>
<rect x="40.70" y="623.04" width="10.60" height="43.26" fill="url(#pcq)" stroke="#111" stroke-width="0.9"/>
<line x1="46.00" y1="666.30" x2="46.00" y2="667.60" stroke="#111" stroke-width="0.6"/>
<line x1="61.30" y1="622.11" x2="61.30" y2="623.04" stroke="#111" stroke-width="0.7"/>
<line x1="58.97" y1="622.11" x2="63.63" y2="622.11" stroke="#111" stroke-width="0.7"/>
<rect x="56.00" y="623.04" width="10.60" height="43.26" fill="url(#pchk)" stroke="#111" stroke-width="0.9"/>
<line x1="61.30" y1="666.30" x2="61.30" y2="667.60" stroke="#111" stroke-width="0.6"/>
<line x1="76.80" y1="642.01" x2="76.80" y2="642.20" stroke="#111" stroke-width="0.7"/>
<line x1="74.47" y1="642.01" x2="79.13" y2="642.01" stroke="#111" stroke-width="0.7"/>
<rect x="71.50" y="642.20" width="10.60" height="24.10" fill="url(#pstripe)" stroke="#111" stroke-width="0.9"/>
<line x1="76.80" y1="666.30" x2="76.80" y2="667.60" stroke="#111" stroke-width="0.6"/>
<line x1="92.10" y1="663.52" x2="92.10" y2="663.83" stroke="#111" stroke-width="0.7"/>
<line x1="89.77" y1="663.52" x2="94.43" y2="663.52" stroke="#111" stroke-width="0.7"/>
<rect x="86.80" y="663.83" width="10.60" height="2.47" fill="url(#psaha)" stroke="#111" stroke-width="0.9"/>
<line x1="92.10" y1="666.30" x2="92.10" y2="667.60" stroke="#111" stroke-width="0.6"/>
<circle cx="92.10" cy="660.20" r="1.4" fill="#111"/>
<line x1="107.50" y1="661.66" x2="107.50" y2="661.97" stroke="#111" stroke-width="0.7"/>
<line x1="105.17" y1="661.66" x2="109.83" y2="661.66" stroke="#111" stroke-width="0.7"/>
<rect x="102.20" y="661.97" width="10.60" height="4.33" fill="url(#psaha)" stroke="#111" stroke-width="0.9"/>
<line x1="107.50" y1="666.30" x2="107.50" y2="667.60" stroke="#111" stroke-width="0.6"/>
<circle cx="107.50" cy="658.70" r="1.4" fill="#111"/>
<text x="32.00" y="673.30" font-size="4.5" font-weight="bold" text-anchor="end" fill="#222" transform="rotate(-45 32.00 673.30)" stroke="#222" stroke-width="0.26">Control</text>
<text x="47.20" y="673.30" font-size="4.5" font-weight="bold" text-anchor="end" fill="#222" transform="rotate(-45 47.20 673.30)" stroke="#222" stroke-width="0.26">CQ</text>
<text x="62.50" y="673.30" font-size="4.5" font-weight="bold" text-anchor="end" fill="#222" transform="rotate(-45 62.50 673.30)" stroke="#222" stroke-width="0.26">3-MA</text>
<text x="78.00" y="673.30" font-size="4.5" font-weight="bold" text-anchor="end" fill="#222" transform="rotate(-45 78.00 673.30)" stroke="#222" stroke-width="0.26">SAHA</text>
<text x="93.30" y="673.30" font-size="4.5" font-weight="bold" text-anchor="end" fill="#222" transform="rotate(-45 93.30 673.30)" stroke="#222" stroke-width="0.26">CQ + SAHA</text>
<text x="108.70" y="673.30" font-size="4.5" font-weight="bold" text-anchor="end" fill="#222" transform="rotate(-45 108.70 673.30)" stroke="#222" stroke-width="0.26">3-MA + SAHA</text>
<text x="68.75" y="597.80" font-size="7.6" font-weight="bold" text-anchor="middle" fill="#111" stroke="#111" stroke-width="0.26">Ba/F3 p210</text>
<text x="9.50" y="636.70" font-size="6.8" font-weight="bold" text-anchor="middle" fill="#111" stroke="#111" stroke-width="0.28" transform="rotate(-90 9.50 636.70)">OD<tspan font-size="4.90" dy="1.70">570</tspan><tspan dy="-1.70"> (% Control)</tspan></text>
<line x1="157.80" y1="604.70" x2="157.80" y2="665.80" stroke="#111" stroke-width="1.1"/>
<line x1="157.40" y1="665.30" x2="248.00" y2="665.30" stroke="#111" stroke-width="1.1"/>
<line x1="155.80" y1="665.30" x2="157.80" y2="665.30" stroke="#111" stroke-width="0.8"/>
<text x="155.40" y="666.70" font-size="3.9" font-weight="normal" text-anchor="end" fill="#111" stroke="#111" stroke-width="0.15">0</text>
<line x1="155.80" y1="653.24" x2="157.80" y2="653.24" stroke="#111" stroke-width="0.8"/>
<text x="155.40" y="654.64" font-size="3.9" font-weight="normal" text-anchor="end" fill="#111" stroke="#111" stroke-width="0.15">20</text>
<line x1="155.80" y1="641.18" x2="157.80" y2="641.18" stroke="#111" stroke-width="0.8"/>
<text x="155.40" y="642.58" font-size="3.9" font-weight="normal" text-anchor="end" fill="#111" stroke="#111" stroke-width="0.15">40</text>
<line x1="155.80" y1="629.12" x2="157.80" y2="629.12" stroke="#111" stroke-width="0.8"/>
<text x="155.40" y="630.52" font-size="3.9" font-weight="normal" text-anchor="end" fill="#111" stroke="#111" stroke-width="0.15">60</text>
<line x1="155.80" y1="617.06" x2="157.80" y2="617.06" stroke="#111" stroke-width="0.8"/>
<text x="155.40" y="618.46" font-size="3.9" font-weight="normal" text-anchor="end" fill="#111" stroke="#111" stroke-width="0.15">80</text>
<line x1="155.80" y1="605.00" x2="157.80" y2="605.00" stroke="#111" stroke-width="0.8"/>
<text x="155.40" y="606.40" font-size="3.9" font-weight="normal" text-anchor="end" fill="#111" stroke="#111" stroke-width="0.15">100</text>
<rect x="161.65" y="605.00" width="9.70" height="60.30" fill="url(#pctrl)" stroke="#111" stroke-width="0.9"/>
<line x1="166.50" y1="665.30" x2="166.50" y2="666.60" stroke="#111" stroke-width="0.6"/>
<line x1="181.30" y1="624.90" x2="181.30" y2="626.41" stroke="#111" stroke-width="0.7"/>
<line x1="179.17" y1="624.90" x2="183.43" y2="624.90" stroke="#111" stroke-width="0.7"/>
<rect x="176.45" y="626.41" width="9.70" height="38.89" fill="url(#pcq)" stroke="#111" stroke-width="0.9"/>
<line x1="181.30" y1="665.30" x2="181.30" y2="666.60" stroke="#111" stroke-width="0.6"/>
<line x1="196.20" y1="627.91" x2="196.20" y2="630.33" stroke="#111" stroke-width="0.7"/>
<line x1="194.07" y1="627.91" x2="198.33" y2="627.91" stroke="#111" stroke-width="0.7"/>
<rect x="191.35" y="630.33" width="9.70" height="34.97" fill="url(#pchk)" stroke="#111" stroke-width="0.9"/>
<line x1="196.20" y1="665.30" x2="196.20" y2="666.60" stroke="#111" stroke-width="0.6"/>
<line x1="211.00" y1="648.42" x2="211.00" y2="649.02" stroke="#111" stroke-width="0.7"/>
<line x1="208.87" y1="648.42" x2="213.13" y2="648.42" stroke="#111" stroke-width="0.7"/>
<rect x="206.15" y="649.02" width="9.70" height="16.28" fill="url(#pstripe)" stroke="#111" stroke-width="0.9"/>
<line x1="211.00" y1="665.30" x2="211.00" y2="666.60" stroke="#111" stroke-width="0.6"/>
<line x1="226.00" y1="663.31" x2="226.00" y2="663.49" stroke="#111" stroke-width="0.7"/>
<line x1="223.87" y1="663.31" x2="228.13" y2="663.31" stroke="#111" stroke-width="0.7"/>
<rect x="221.15" y="663.49" width="9.70" height="1.81" fill="url(#psaha)" stroke="#111" stroke-width="0.9"/>
<line x1="226.00" y1="665.30" x2="226.00" y2="666.60" stroke="#111" stroke-width="0.6"/>
<circle cx="226.00" cy="661.00" r="1.4" fill="#111"/>
<line x1="240.90" y1="661.80" x2="240.90" y2="661.98" stroke="#111" stroke-width="0.7"/>
<line x1="238.77" y1="661.80" x2="243.03" y2="661.80" stroke="#111" stroke-width="0.7"/>
<rect x="236.05" y="661.98" width="9.70" height="3.32" fill="url(#psaha)" stroke="#111" stroke-width="0.9"/>
<line x1="240.90" y1="665.30" x2="240.90" y2="666.60" stroke="#111" stroke-width="0.6"/>
<circle cx="240.90" cy="659.00" r="1.4" fill="#111"/>
<text x="167.70" y="672.30" font-size="4.5" font-weight="bold" text-anchor="end" fill="#222" transform="rotate(-45 167.70 672.30)" stroke="#222" stroke-width="0.26">Control</text>
<text x="182.50" y="672.30" font-size="4.5" font-weight="bold" text-anchor="end" fill="#222" transform="rotate(-45 182.50 672.30)" stroke="#222" stroke-width="0.26">CQ</text>
<text x="197.40" y="672.30" font-size="4.5" font-weight="bold" text-anchor="end" fill="#222" transform="rotate(-45 197.40 672.30)" stroke="#222" stroke-width="0.26">3-MA</text>
<text x="212.20" y="672.30" font-size="4.5" font-weight="bold" text-anchor="end" fill="#222" transform="rotate(-45 212.20 672.30)" stroke="#222" stroke-width="0.26">SAHA</text>
<text x="227.20" y="672.30" font-size="4.5" font-weight="bold" text-anchor="end" fill="#222" transform="rotate(-45 227.20 672.30)" stroke="#222" stroke-width="0.26">CQ + SAHA</text>
<text x="242.10" y="672.30" font-size="4.5" font-weight="bold" text-anchor="end" fill="#222" transform="rotate(-45 242.10 672.30)" stroke="#222" stroke-width="0.26">3-MA + SAHA</text>
<text x="203.75" y="597.80" font-size="7.6" font-weight="bold" text-anchor="middle" fill="#111" stroke="#111" stroke-width="0.26">Ba/F3 T315I</text>
<text x="143.50" y="636.45" font-size="6.8" font-weight="bold" text-anchor="middle" fill="#111" stroke="#111" stroke-width="0.28" transform="rotate(-90 143.50 636.45)">OD<tspan font-size="4.90" dy="1.70">570</tspan><tspan dy="-1.70"> (% Control)</tspan></text>
<line x1="294.50" y1="605.10" x2="294.50" y2="666.40" stroke="#111" stroke-width="1.1"/>
<line x1="294.10" y1="665.90" x2="383.50" y2="665.90" stroke="#111" stroke-width="1.1"/>
<line x1="292.50" y1="665.90" x2="294.50" y2="665.90" stroke="#111" stroke-width="0.8"/>
<text x="292.10" y="667.30" font-size="3.9" font-weight="normal" text-anchor="end" fill="#111" stroke="#111" stroke-width="0.15">0</text>
<line x1="292.50" y1="653.80" x2="294.50" y2="653.80" stroke="#111" stroke-width="0.8"/>
<text x="292.10" y="655.20" font-size="3.9" font-weight="normal" text-anchor="end" fill="#111" stroke="#111" stroke-width="0.15">20</text>
<line x1="292.50" y1="641.70" x2="294.50" y2="641.70" stroke="#111" stroke-width="0.8"/>
<text x="292.10" y="643.10" font-size="3.9" font-weight="normal" text-anchor="end" fill="#111" stroke="#111" stroke-width="0.15">40</text>
<line x1="292.50" y1="629.60" x2="294.50" y2="629.60" stroke="#111" stroke-width="0.8"/>
<text x="292.10" y="631.00" font-size="3.9" font-weight="normal" text-anchor="end" fill="#111" stroke="#111" stroke-width="0.15">60</text>
<line x1="292.50" y1="617.50" x2="294.50" y2="617.50" stroke="#111" stroke-width="0.8"/>
<text x="292.10" y="618.90" font-size="3.9" font-weight="normal" text-anchor="end" fill="#111" stroke="#111" stroke-width="0.15">80</text>
<line x1="292.50" y1="605.40" x2="294.50" y2="605.40" stroke="#111" stroke-width="0.8"/>
<text x="292.10" y="606.80" font-size="3.9" font-weight="normal" text-anchor="end" fill="#111" stroke="#111" stroke-width="0.15">100</text>
<rect x="297.75" y="605.40" width="10.00" height="60.50" fill="url(#pctrl)" stroke="#111" stroke-width="0.9"/>
<line x1="302.75" y1="665.90" x2="302.75" y2="667.20" stroke="#111" stroke-width="0.6"/>
<line x1="317.55" y1="613.57" x2="317.55" y2="614.78" stroke="#111" stroke-width="0.7"/>
<line x1="315.35" y1="613.57" x2="319.75" y2="613.57" stroke="#111" stroke-width="0.7"/>
<rect x="312.55" y="614.78" width="10.00" height="51.12" fill="url(#pcq)" stroke="#111" stroke-width="0.9"/>
<line x1="317.55" y1="665.90" x2="317.55" y2="667.20" stroke="#111" stroke-width="0.6"/>
<line x1="332.65" y1="612.66" x2="332.65" y2="614.17" stroke="#111" stroke-width="0.7"/>
<line x1="330.45" y1="612.66" x2="334.85" y2="612.66" stroke="#111" stroke-width="0.7"/>
<rect x="327.65" y="614.17" width="10.00" height="51.73" fill="url(#pchk)" stroke="#111" stroke-width="0.9"/>
<line x1="332.65" y1="665.90" x2="332.65" y2="667.20" stroke="#111" stroke-width="0.6"/>
<line x1="347.45" y1="616.59" x2="347.45" y2="618.11" stroke="#111" stroke-width="0.7"/>
<line x1="345.25" y1="616.59" x2="349.65" y2="616.59" stroke="#111" stroke-width="0.7"/>
<rect x="342.45" y="618.11" width="10.00" height="47.80" fill="url(#pstripe)" stroke="#111" stroke-width="0.9"/>
<line x1="347.45" y1="665.90" x2="347.45" y2="667.20" stroke="#111" stroke-width="0.6"/>
<line x1="362.45" y1="654.71" x2="362.45" y2="656.22" stroke="#111" stroke-width="0.7"/>
<line x1="360.25" y1="654.71" x2="364.65" y2="654.71" stroke="#111" stroke-width="0.7"/>
<rect x="357.45" y="656.22" width="10.00" height="9.68" fill="url(#psaha)" stroke="#111" stroke-width="0.9"/>
<line x1="362.45" y1="665.90" x2="362.45" y2="667.20" stroke="#111" stroke-width="0.6"/>
<circle cx="362.45" cy="651.00" r="1.4" fill="#111"/>
<line x1="377.25" y1="651.38" x2="377.25" y2="653.19" stroke="#111" stroke-width="0.7"/>
<line x1="375.05" y1="651.38" x2="379.45" y2="651.38" stroke="#111" stroke-width="0.7"/>
<rect x="372.25" y="653.19" width="10.00" height="12.71" fill="url(#psaha)" stroke="#111" stroke-width="0.9"/>
<line x1="377.25" y1="665.90" x2="377.25" y2="667.20" stroke="#111" stroke-width="0.6"/>
<circle cx="377.25" cy="647.50" r="1.4" fill="#111"/>
<text x="303.95" y="672.90" font-size="4.5" font-weight="bold" text-anchor="end" fill="#222" transform="rotate(-45 303.95 672.90)" stroke="#222" stroke-width="0.26">Control</text>
<text x="318.75" y="672.90" font-size="4.5" font-weight="bold" text-anchor="end" fill="#222" transform="rotate(-45 318.75 672.90)" stroke="#222" stroke-width="0.26">CQ</text>
<text x="333.85" y="672.90" font-size="4.5" font-weight="bold" text-anchor="end" fill="#222" transform="rotate(-45 333.85 672.90)" stroke="#222" stroke-width="0.26">3-MA</text>
<text x="348.65" y="672.90" font-size="4.5" font-weight="bold" text-anchor="end" fill="#222" transform="rotate(-45 348.65 672.90)" stroke="#222" stroke-width="0.26">SAHA</text>
<text x="363.65" y="672.90" font-size="4.5" font-weight="bold" text-anchor="end" fill="#222" transform="rotate(-45 363.65 672.90)" stroke="#222" stroke-width="0.26">CQ</text>
<text x="378.45" y="672.90" font-size="4.5" font-weight="bold" text-anchor="end" fill="#222" transform="rotate(-45 378.45 672.90)" stroke="#222" stroke-width="0.26">3-MA + SAHA</text>
<text x="339.40" y="601.20" font-size="7.6" font-weight="bold" text-anchor="middle" fill="#111" stroke="#111" stroke-width="0.26">K562</text>
<text x="281.50" y="636.95" font-size="6.8" font-weight="bold" text-anchor="middle" fill="#111" stroke="#111" stroke-width="0.28" transform="rotate(-90 281.50 636.95)">OD<tspan font-size="4.90" dy="1.70">570</tspan><tspan dy="-1.70"> (% Control)</tspan></text>
<line x1="427.60" y1="605.10" x2="427.60" y2="666.20" stroke="#111" stroke-width="1.1"/>
<line x1="427.20" y1="665.70" x2="517.00" y2="665.70" stroke="#111" stroke-width="1.1"/>
<line x1="425.60" y1="665.70" x2="427.60" y2="665.70" stroke="#111" stroke-width="0.8"/>
<text x="425.20" y="667.10" font-size="3.9" font-weight="normal" text-anchor="end" fill="#111" stroke="#111" stroke-width="0.15">0</text>
<line x1="425.60" y1="653.64" x2="427.60" y2="653.64" stroke="#111" stroke-width="0.8"/>
<text x="425.20" y="655.04" font-size="3.9" font-weight="normal" text-anchor="end" fill="#111" stroke="#111" stroke-width="0.15">20</text>
<line x1="425.60" y1="641.58" x2="427.60" y2="641.58" stroke="#111" stroke-width="0.8"/>
<text x="425.20" y="642.98" font-size="3.9" font-weight="normal" text-anchor="end" fill="#111" stroke="#111" stroke-width="0.15">40</text>
<line x1="425.60" y1="629.52" x2="427.60" y2="629.52" stroke="#111" stroke-width="0.8"/>
<text x="425.20" y="630.92" font-size="3.9" font-weight="normal" text-anchor="end" fill="#111" stroke="#111" stroke-width="0.15">60</text>
<line x1="425.60" y1="617.46" x2="427.60" y2="617.46" stroke="#111" stroke-width="0.8"/>
<text x="425.20" y="618.86" font-size="3.9" font-weight="normal" text-anchor="end" fill="#111" stroke="#111" stroke-width="0.15">80</text>
<line x1="425.60" y1="605.40" x2="427.60" y2="605.40" stroke="#111" stroke-width="0.8"/>
<text x="425.20" y="606.80" font-size="3.9" font-weight="normal" text-anchor="end" fill="#111" stroke="#111" stroke-width="0.15">100</text>
<rect x="431.00" y="605.40" width="9.80" height="60.30" fill="url(#pctrl)" stroke="#111" stroke-width="0.9"/>
<line x1="435.90" y1="665.70" x2="435.90" y2="667.00" stroke="#111" stroke-width="0.6"/>
<line x1="451.00" y1="620.78" x2="451.00" y2="623.49" stroke="#111" stroke-width="0.7"/>
<line x1="448.84" y1="620.78" x2="453.16" y2="620.78" stroke="#111" stroke-width="0.7"/>
<rect x="446.10" y="623.49" width="9.80" height="42.21" fill="url(#pcq)" stroke="#111" stroke-width="0.9"/>
<line x1="451.00" y1="665.70" x2="451.00" y2="667.00" stroke="#111" stroke-width="0.6"/>
<line x1="466.20" y1="621.08" x2="466.20" y2="621.68" stroke="#111" stroke-width="0.7"/>
<line x1="464.04" y1="621.08" x2="468.36" y2="621.08" stroke="#111" stroke-width="0.7"/>
<rect x="461.30" y="621.68" width="9.80" height="44.02" fill="url(#pchk)" stroke="#111" stroke-width="0.9"/>
<line x1="466.20" y1="665.70" x2="466.20" y2="667.00" stroke="#111" stroke-width="0.6"/>
<line x1="481.20" y1="617.46" x2="481.20" y2="618.06" stroke="#111" stroke-width="0.7"/>
<line x1="479.04" y1="617.46" x2="483.36" y2="617.46" stroke="#111" stroke-width="0.7"/>
<rect x="476.30" y="618.06" width="9.80" height="47.64" fill="url(#pstripe)" stroke="#111" stroke-width="0.9"/>
<line x1="481.20" y1="665.70" x2="481.20" y2="667.00" stroke="#111" stroke-width="0.6"/>
<line x1="495.50" y1="662.38" x2="495.50" y2="662.69" stroke="#111" stroke-width="0.7"/>
<line x1="493.34" y1="662.38" x2="497.66" y2="662.38" stroke="#111" stroke-width="0.7"/>
<rect x="490.60" y="662.69" width="9.80" height="3.02" fill="url(#psaha)" stroke="#111" stroke-width="0.9"/>
<line x1="495.50" y1="665.70" x2="495.50" y2="667.00" stroke="#111" stroke-width="0.6"/>
<circle cx="495.50" cy="658.00" r="1.4" fill="#111"/>
<line x1="510.90" y1="661.18" x2="510.90" y2="661.48" stroke="#111" stroke-width="0.7"/>
<line x1="508.74" y1="661.18" x2="513.06" y2="661.18" stroke="#111" stroke-width="0.7"/>
<rect x="506.00" y="661.48" width="9.80" height="4.22" fill="url(#psaha)" stroke="#111" stroke-width="0.9"/>
<line x1="510.90" y1="665.70" x2="510.90" y2="667.00" stroke="#111" stroke-width="0.6"/>
<circle cx="510.90" cy="657.00" r="1.4" fill="#111"/>
<text x="437.10" y="672.70" font-size="4.5" font-weight="bold" text-anchor="end" fill="#222" transform="rotate(-45 437.10 672.70)" stroke="#222" stroke-width="0.26">Control</text>
<text x="452.20" y="672.70" font-size="4.5" font-weight="bold" text-anchor="end" fill="#222" transform="rotate(-45 452.20 672.70)" stroke="#222" stroke-width="0.26">CQ</text>
<text x="467.40" y="672.70" font-size="4.5" font-weight="bold" text-anchor="end" fill="#222" transform="rotate(-45 467.40 672.70)" stroke="#222" stroke-width="0.26">3-MA</text>
<text x="482.40" y="672.70" font-size="4.5" font-weight="bold" text-anchor="end" fill="#222" transform="rotate(-45 482.40 672.70)" stroke="#222" stroke-width="0.26">SAHA</text>
<text x="496.70" y="672.70" font-size="4.5" font-weight="bold" text-anchor="end" fill="#222" transform="rotate(-45 496.70 672.70)" stroke="#222" stroke-width="0.26">CQ + SAHA</text>
<text x="512.10" y="672.70" font-size="4.5" font-weight="bold" text-anchor="end" fill="#222" transform="rotate(-45 512.10 672.70)" stroke="#222" stroke-width="0.26">3-MA + SAHA</text>
<text x="472.90" y="602.30" font-size="7.4" font-weight="bold" text-anchor="middle" fill="#111" stroke="#111" stroke-width="0.26">LAMA 84</text>
<text x="414.00" y="636.85" font-size="6.8" font-weight="bold" text-anchor="middle" fill="#111" stroke="#111" stroke-width="0.28" transform="rotate(-90 414.00 636.85)">OD<tspan font-size="4.90" dy="1.70">570</tspan><tspan dy="-1.70"> (% Control)</tspan></text>
</g>
</svg>
</body></html>
